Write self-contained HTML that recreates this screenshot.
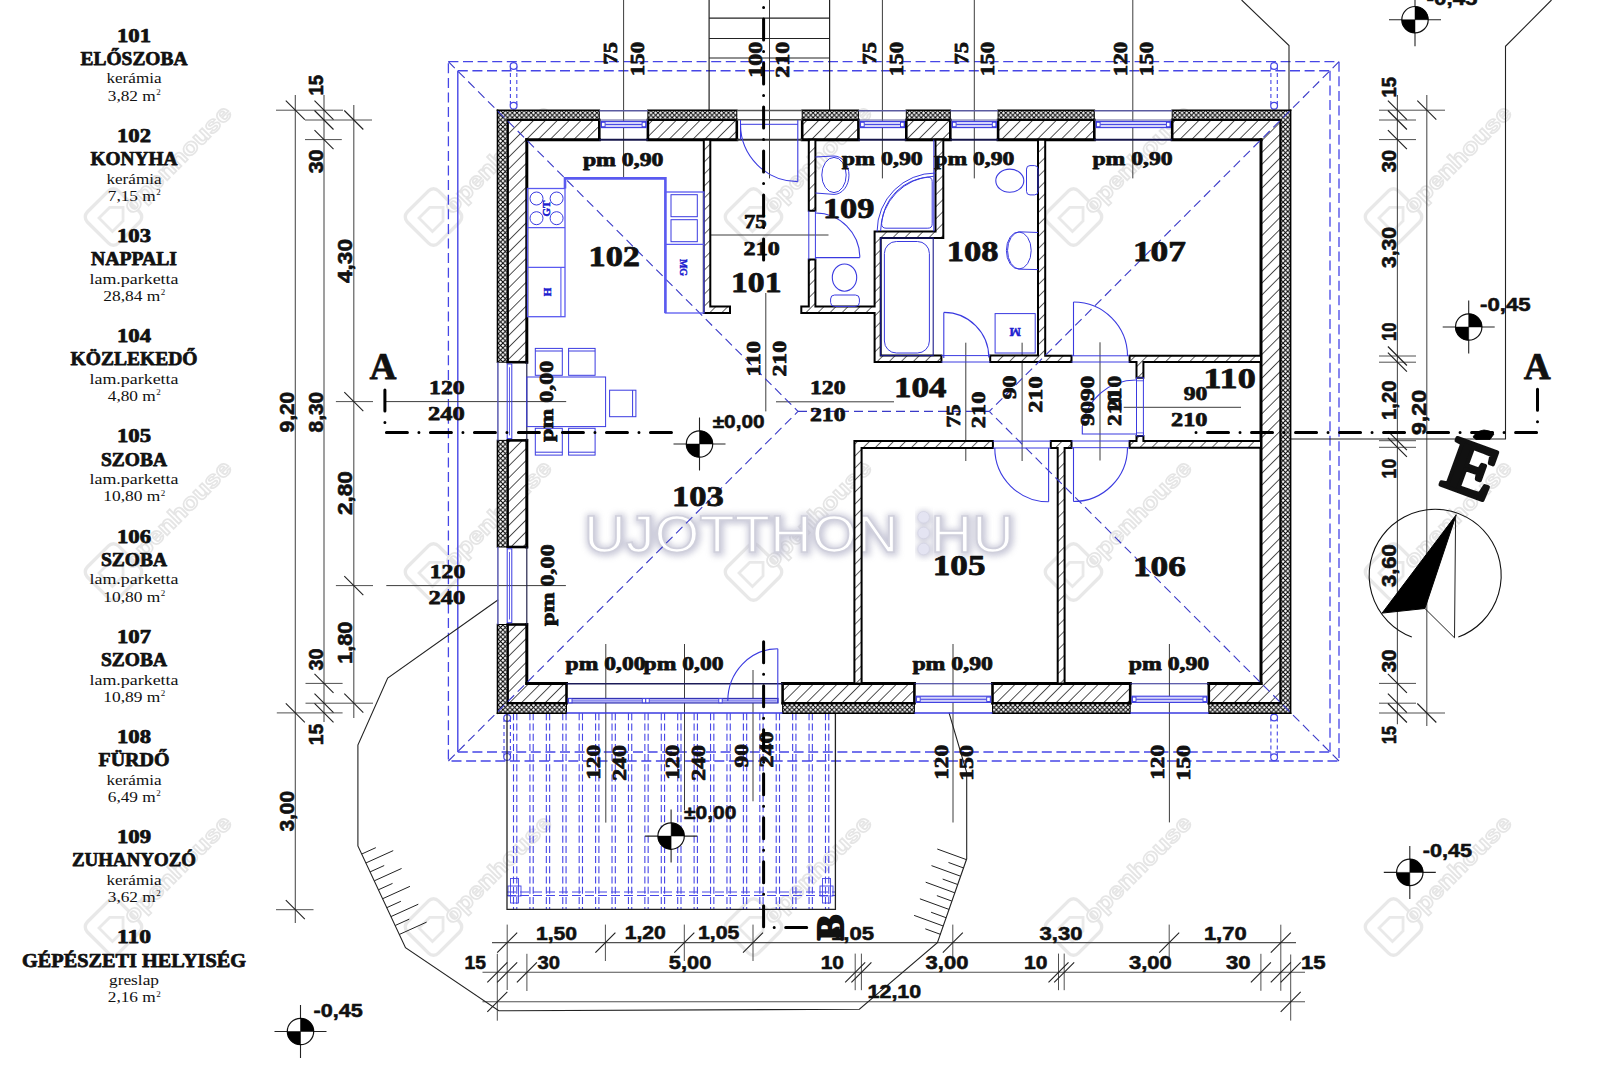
<!DOCTYPE html>
<html><head><meta charset="utf-8"><title>floor plan</title>
<style>html,body{margin:0;padding:0;background:#fff;overflow:hidden}svg{display:block}</style>
</head><body>
<svg width="1600" height="1066" viewBox="0 0 1600 1066">
<defs>
<pattern id="xh" patternUnits="userSpaceOnUse" width="4.7" height="4.7">
<rect width="4.7" height="4.7" fill="#fff"/>
<path d="M0,0 L4.7,4.7 M4.7,0 L0,4.7" stroke="#000" stroke-width="1.0"/>
</pattern>
<pattern id="hh" patternUnits="userSpaceOnUse" width="8.4" height="8.4" patternTransform="rotate(45)">
<rect width="8.4" height="8.4" fill="#fff"/>
<line x1="0" y1="0" x2="0" y2="8.4" stroke="#000" stroke-width="1.35"/>
</pattern>
<pattern id="hp" patternUnits="userSpaceOnUse" width="8.5" height="8.5" patternTransform="rotate(45)">
<rect width="8.5" height="8.5" fill="#fff"/>
<line x1="0" y1="0" x2="0" y2="8.5" stroke="#000" stroke-width="1.2"/>
</pattern>
<filter id="blur1" x="-10%" y="-30%" width="120%" height="160%"><feGaussianBlur stdDeviation="3"/></filter>
</defs>
<rect width="1600" height="1066" fill="#fff"/>
<g opacity="0.55">
<rect x="91.5" y="195" width="44" height="44" rx="7" fill="none" stroke="#d6d6d6" stroke-width="3.4" transform="rotate(45 113.5 217)"/>
<path d="M104,228 l0,-15 l9.5,-9.5 l9.5,9.5 l0,15 z" fill="none" stroke="#d8d8d8" stroke-width="2.8" transform="rotate(45 113.5 217)"/>
<text x="132.5" y="215" font-family="'Liberation Sans', sans-serif" font-size="23" font-weight="bold" fill="#fff" stroke="#d0d0d0" stroke-width="1.6" textLength="142" lengthAdjust="spacingAndGlyphs" transform="rotate(-45 132.5 215)">openhouse</text>
</g>
<g opacity="0.55">
<rect x="91.5" y="550" width="44" height="44" rx="7" fill="none" stroke="#d6d6d6" stroke-width="3.4" transform="rotate(45 113.5 572)"/>
<path d="M104,583 l0,-15 l9.5,-9.5 l9.5,9.5 l0,15 z" fill="none" stroke="#d8d8d8" stroke-width="2.8" transform="rotate(45 113.5 572)"/>
<text x="132.5" y="570" font-family="'Liberation Sans', sans-serif" font-size="23" font-weight="bold" fill="#fff" stroke="#d0d0d0" stroke-width="1.6" textLength="142" lengthAdjust="spacingAndGlyphs" transform="rotate(-45 132.5 570)">openhouse</text>
</g>
<g opacity="0.55">
<rect x="91.5" y="905" width="44" height="44" rx="7" fill="none" stroke="#d6d6d6" stroke-width="3.4" transform="rotate(45 113.5 927)"/>
<path d="M104,938 l0,-15 l9.5,-9.5 l9.5,9.5 l0,15 z" fill="none" stroke="#d8d8d8" stroke-width="2.8" transform="rotate(45 113.5 927)"/>
<text x="132.5" y="925" font-family="'Liberation Sans', sans-serif" font-size="23" font-weight="bold" fill="#fff" stroke="#d0d0d0" stroke-width="1.6" textLength="142" lengthAdjust="spacingAndGlyphs" transform="rotate(-45 132.5 925)">openhouse</text>
</g>
<g opacity="0.55">
<rect x="411.5" y="195" width="44" height="44" rx="7" fill="none" stroke="#d6d6d6" stroke-width="3.4" transform="rotate(45 433.5 217)"/>
<path d="M424,228 l0,-15 l9.5,-9.5 l9.5,9.5 l0,15 z" fill="none" stroke="#d8d8d8" stroke-width="2.8" transform="rotate(45 433.5 217)"/>
<text x="452.5" y="215" font-family="'Liberation Sans', sans-serif" font-size="23" font-weight="bold" fill="#fff" stroke="#d0d0d0" stroke-width="1.6" textLength="142" lengthAdjust="spacingAndGlyphs" transform="rotate(-45 452.5 215)">openhouse</text>
</g>
<g opacity="0.55">
<rect x="411.5" y="550" width="44" height="44" rx="7" fill="none" stroke="#d6d6d6" stroke-width="3.4" transform="rotate(45 433.5 572)"/>
<path d="M424,583 l0,-15 l9.5,-9.5 l9.5,9.5 l0,15 z" fill="none" stroke="#d8d8d8" stroke-width="2.8" transform="rotate(45 433.5 572)"/>
<text x="452.5" y="570" font-family="'Liberation Sans', sans-serif" font-size="23" font-weight="bold" fill="#fff" stroke="#d0d0d0" stroke-width="1.6" textLength="142" lengthAdjust="spacingAndGlyphs" transform="rotate(-45 452.5 570)">openhouse</text>
</g>
<g opacity="0.55">
<rect x="411.5" y="905" width="44" height="44" rx="7" fill="none" stroke="#d6d6d6" stroke-width="3.4" transform="rotate(45 433.5 927)"/>
<path d="M424,938 l0,-15 l9.5,-9.5 l9.5,9.5 l0,15 z" fill="none" stroke="#d8d8d8" stroke-width="2.8" transform="rotate(45 433.5 927)"/>
<text x="452.5" y="925" font-family="'Liberation Sans', sans-serif" font-size="23" font-weight="bold" fill="#fff" stroke="#d0d0d0" stroke-width="1.6" textLength="142" lengthAdjust="spacingAndGlyphs" transform="rotate(-45 452.5 925)">openhouse</text>
</g>
<g opacity="0.55">
<rect x="731.5" y="195" width="44" height="44" rx="7" fill="none" stroke="#d6d6d6" stroke-width="3.4" transform="rotate(45 753.5 217)"/>
<path d="M744,228 l0,-15 l9.5,-9.5 l9.5,9.5 l0,15 z" fill="none" stroke="#d8d8d8" stroke-width="2.8" transform="rotate(45 753.5 217)"/>
<text x="772.5" y="215" font-family="'Liberation Sans', sans-serif" font-size="23" font-weight="bold" fill="#fff" stroke="#d0d0d0" stroke-width="1.6" textLength="142" lengthAdjust="spacingAndGlyphs" transform="rotate(-45 772.5 215)">openhouse</text>
</g>
<g opacity="0.55">
<rect x="731.5" y="550" width="44" height="44" rx="7" fill="none" stroke="#d6d6d6" stroke-width="3.4" transform="rotate(45 753.5 572)"/>
<path d="M744,583 l0,-15 l9.5,-9.5 l9.5,9.5 l0,15 z" fill="none" stroke="#d8d8d8" stroke-width="2.8" transform="rotate(45 753.5 572)"/>
<text x="772.5" y="570" font-family="'Liberation Sans', sans-serif" font-size="23" font-weight="bold" fill="#fff" stroke="#d0d0d0" stroke-width="1.6" textLength="142" lengthAdjust="spacingAndGlyphs" transform="rotate(-45 772.5 570)">openhouse</text>
</g>
<g opacity="0.55">
<rect x="731.5" y="905" width="44" height="44" rx="7" fill="none" stroke="#d6d6d6" stroke-width="3.4" transform="rotate(45 753.5 927)"/>
<path d="M744,938 l0,-15 l9.5,-9.5 l9.5,9.5 l0,15 z" fill="none" stroke="#d8d8d8" stroke-width="2.8" transform="rotate(45 753.5 927)"/>
<text x="772.5" y="925" font-family="'Liberation Sans', sans-serif" font-size="23" font-weight="bold" fill="#fff" stroke="#d0d0d0" stroke-width="1.6" textLength="142" lengthAdjust="spacingAndGlyphs" transform="rotate(-45 772.5 925)">openhouse</text>
</g>
<g opacity="0.55">
<rect x="1051.5" y="195" width="44" height="44" rx="7" fill="none" stroke="#d6d6d6" stroke-width="3.4" transform="rotate(45 1073.5 217)"/>
<path d="M1064,228 l0,-15 l9.5,-9.5 l9.5,9.5 l0,15 z" fill="none" stroke="#d8d8d8" stroke-width="2.8" transform="rotate(45 1073.5 217)"/>
<text x="1092.5" y="215" font-family="'Liberation Sans', sans-serif" font-size="23" font-weight="bold" fill="#fff" stroke="#d0d0d0" stroke-width="1.6" textLength="142" lengthAdjust="spacingAndGlyphs" transform="rotate(-45 1092.5 215)">openhouse</text>
</g>
<g opacity="0.55">
<rect x="1051.5" y="550" width="44" height="44" rx="7" fill="none" stroke="#d6d6d6" stroke-width="3.4" transform="rotate(45 1073.5 572)"/>
<path d="M1064,583 l0,-15 l9.5,-9.5 l9.5,9.5 l0,15 z" fill="none" stroke="#d8d8d8" stroke-width="2.8" transform="rotate(45 1073.5 572)"/>
<text x="1092.5" y="570" font-family="'Liberation Sans', sans-serif" font-size="23" font-weight="bold" fill="#fff" stroke="#d0d0d0" stroke-width="1.6" textLength="142" lengthAdjust="spacingAndGlyphs" transform="rotate(-45 1092.5 570)">openhouse</text>
</g>
<g opacity="0.55">
<rect x="1051.5" y="905" width="44" height="44" rx="7" fill="none" stroke="#d6d6d6" stroke-width="3.4" transform="rotate(45 1073.5 927)"/>
<path d="M1064,938 l0,-15 l9.5,-9.5 l9.5,9.5 l0,15 z" fill="none" stroke="#d8d8d8" stroke-width="2.8" transform="rotate(45 1073.5 927)"/>
<text x="1092.5" y="925" font-family="'Liberation Sans', sans-serif" font-size="23" font-weight="bold" fill="#fff" stroke="#d0d0d0" stroke-width="1.6" textLength="142" lengthAdjust="spacingAndGlyphs" transform="rotate(-45 1092.5 925)">openhouse</text>
</g>
<g opacity="0.55">
<rect x="1371.5" y="195" width="44" height="44" rx="7" fill="none" stroke="#d6d6d6" stroke-width="3.4" transform="rotate(45 1393.5 217)"/>
<path d="M1384,228 l0,-15 l9.5,-9.5 l9.5,9.5 l0,15 z" fill="none" stroke="#d8d8d8" stroke-width="2.8" transform="rotate(45 1393.5 217)"/>
<text x="1412.5" y="215" font-family="'Liberation Sans', sans-serif" font-size="23" font-weight="bold" fill="#fff" stroke="#d0d0d0" stroke-width="1.6" textLength="142" lengthAdjust="spacingAndGlyphs" transform="rotate(-45 1412.5 215)">openhouse</text>
</g>
<g opacity="0.55">
<rect x="1371.5" y="550" width="44" height="44" rx="7" fill="none" stroke="#d6d6d6" stroke-width="3.4" transform="rotate(45 1393.5 572)"/>
<path d="M1384,583 l0,-15 l9.5,-9.5 l9.5,9.5 l0,15 z" fill="none" stroke="#d8d8d8" stroke-width="2.8" transform="rotate(45 1393.5 572)"/>
<text x="1412.5" y="570" font-family="'Liberation Sans', sans-serif" font-size="23" font-weight="bold" fill="#fff" stroke="#d0d0d0" stroke-width="1.6" textLength="142" lengthAdjust="spacingAndGlyphs" transform="rotate(-45 1412.5 570)">openhouse</text>
</g>
<g opacity="0.55">
<rect x="1371.5" y="905" width="44" height="44" rx="7" fill="none" stroke="#d6d6d6" stroke-width="3.4" transform="rotate(45 1393.5 927)"/>
<path d="M1384,938 l0,-15 l9.5,-9.5 l9.5,9.5 l0,15 z" fill="none" stroke="#d8d8d8" stroke-width="2.8" transform="rotate(45 1393.5 927)"/>
<text x="1412.5" y="925" font-family="'Liberation Sans', sans-serif" font-size="23" font-weight="bold" fill="#fff" stroke="#d0d0d0" stroke-width="1.6" textLength="142" lengthAdjust="spacingAndGlyphs" transform="rotate(-45 1412.5 925)">openhouse</text>
</g>
<g>
<text x="585" y="553" font-family="'Liberation Sans', sans-serif" font-size="51" font-weight="normal" fill="none" stroke="#b8b8cc" stroke-width="5.5" textLength="430" lengthAdjust="spacingAndGlyphs" filter="url(#blur1)" opacity="0.75">UJOTTHON&#160;&#160;HU</text>
<text x="584" y="552" font-family="'Liberation Sans', sans-serif" font-size="51" font-weight="normal" fill="#fff" stroke="#d0d0dc" stroke-width="1.6" textLength="430" lengthAdjust="spacingAndGlyphs">UJOTTHON&#160;&#160;HU</text>
<circle cx="924" cy="518.0999999999999" r="7.5" fill="#b8b8cc" filter="url(#blur1)" opacity="0.8"/>
<circle cx="923.6" cy="517.3" r="5.8" fill="#e4e4f2" stroke="#d4d4e4" stroke-width="0.8"/>
<circle cx="924" cy="533.8" r="7.5" fill="#b8b8cc" filter="url(#blur1)" opacity="0.8"/>
<circle cx="923.6" cy="533" r="5.8" fill="#e4e4f2" stroke="#d4d4e4" stroke-width="0.8"/>
<circle cx="924" cy="549.8" r="7.5" fill="#b8b8cc" filter="url(#blur1)" opacity="0.8"/>
<circle cx="923.6" cy="549" r="5.8" fill="#e4e4f2" stroke="#d4d4e4" stroke-width="0.8"/>
</g>
<rect x="448.4" y="61.7" width="890.6" height="699.3" fill="none" stroke="#4646e6" stroke-width="1.3" stroke-dasharray="10 4.6"/>
<line x1="457.8" y1="70.8" x2="1330" y2="70.8" stroke="#4646e6" stroke-width="1.5" stroke-dasharray="10 4.6"/>
<line x1="1330" y1="70.8" x2="1330" y2="752" stroke="#4646e6" stroke-width="1.3" stroke-dasharray="10 4.6"/>
<line x1="457.8" y1="752" x2="1330" y2="752" stroke="#4646e6" stroke-width="1.3" stroke-dasharray="10 4.6"/>
<line x1="457.8" y1="70.8" x2="457.8" y2="752" stroke="#4646e6" stroke-width="1.4"/>
<line x1="510.4" y1="66" x2="510.4" y2="105.8" stroke="#4646e6" stroke-width="1.1" stroke-dasharray="4 3"/>
<line x1="516.8" y1="66" x2="516.8" y2="105.8" stroke="#4646e6" stroke-width="1.1" stroke-dasharray="4 3"/>
<circle cx="513.6" cy="66" r="3.4" fill="#fff" stroke="#4646e6" stroke-width="1.2"/>
<circle cx="513.6" cy="105.8" r="3.4" fill="#fff" stroke="#4646e6" stroke-width="1.2"/>
<line x1="1270.9" y1="66" x2="1270.9" y2="105.8" stroke="#4646e6" stroke-width="1.1" stroke-dasharray="4 3"/>
<line x1="1277.3" y1="66" x2="1277.3" y2="105.8" stroke="#4646e6" stroke-width="1.1" stroke-dasharray="4 3"/>
<circle cx="1274.1" cy="66" r="3.4" fill="#fff" stroke="#4646e6" stroke-width="1.2"/>
<circle cx="1274.1" cy="105.8" r="3.4" fill="#fff" stroke="#4646e6" stroke-width="1.2"/>
<line x1="1270.9" y1="717.5" x2="1270.9" y2="757.2" stroke="#4646e6" stroke-width="1.1" stroke-dasharray="4 3"/>
<line x1="1277.3" y1="717.5" x2="1277.3" y2="757.2" stroke="#4646e6" stroke-width="1.1" stroke-dasharray="4 3"/>
<circle cx="1274.1" cy="717.5" r="3.4" fill="#fff" stroke="#4646e6" stroke-width="1.2"/>
<circle cx="1274.1" cy="757.2" r="3.4" fill="#fff" stroke="#4646e6" stroke-width="1.2"/>
<line x1="504" y1="718" x2="504" y2="756.9" stroke="#4646e6" stroke-width="1.1" stroke-dasharray="4 3"/>
<line x1="510.4" y1="718" x2="510.4" y2="756.9" stroke="#4646e6" stroke-width="1.1" stroke-dasharray="4 3"/>
<circle cx="507.2" cy="718" r="3.4" fill="#fff" stroke="#4646e6" stroke-width="1.2"/>
<circle cx="507.2" cy="756.9" r="3.4" fill="#fff" stroke="#4646e6" stroke-width="1.2"/>
<line x1="513.5" y1="713.3" x2="513.5" y2="909.3" stroke="#4646e6" stroke-width="1.1" stroke-dasharray="7 3.2"/>
<line x1="516.8" y1="713.3" x2="516.8" y2="909.3" stroke="#4646e6" stroke-width="1.1" stroke-dasharray="7 3.2"/>
<line x1="529.92" y1="713.3" x2="529.92" y2="909.3" stroke="#4646e6" stroke-width="1.1" stroke-dasharray="7 3.2"/>
<line x1="533.22" y1="713.3" x2="533.22" y2="909.3" stroke="#4646e6" stroke-width="1.1" stroke-dasharray="7 3.2"/>
<line x1="546.34" y1="713.3" x2="546.34" y2="909.3" stroke="#4646e6" stroke-width="1.1" stroke-dasharray="7 3.2"/>
<line x1="549.64" y1="713.3" x2="549.64" y2="909.3" stroke="#4646e6" stroke-width="1.1" stroke-dasharray="7 3.2"/>
<line x1="562.76" y1="713.3" x2="562.76" y2="909.3" stroke="#4646e6" stroke-width="1.1" stroke-dasharray="7 3.2"/>
<line x1="566.06" y1="713.3" x2="566.06" y2="909.3" stroke="#4646e6" stroke-width="1.1" stroke-dasharray="7 3.2"/>
<line x1="579.18" y1="713.3" x2="579.18" y2="909.3" stroke="#4646e6" stroke-width="1.1" stroke-dasharray="7 3.2"/>
<line x1="582.48" y1="713.3" x2="582.48" y2="909.3" stroke="#4646e6" stroke-width="1.1" stroke-dasharray="7 3.2"/>
<line x1="595.6" y1="713.3" x2="595.6" y2="909.3" stroke="#4646e6" stroke-width="1.1" stroke-dasharray="7 3.2"/>
<line x1="598.9" y1="713.3" x2="598.9" y2="909.3" stroke="#4646e6" stroke-width="1.1" stroke-dasharray="7 3.2"/>
<line x1="612.02" y1="713.3" x2="612.02" y2="909.3" stroke="#4646e6" stroke-width="1.1" stroke-dasharray="7 3.2"/>
<line x1="615.32" y1="713.3" x2="615.32" y2="909.3" stroke="#4646e6" stroke-width="1.1" stroke-dasharray="7 3.2"/>
<line x1="628.44" y1="713.3" x2="628.44" y2="909.3" stroke="#4646e6" stroke-width="1.1" stroke-dasharray="7 3.2"/>
<line x1="631.74" y1="713.3" x2="631.74" y2="909.3" stroke="#4646e6" stroke-width="1.1" stroke-dasharray="7 3.2"/>
<line x1="644.86" y1="713.3" x2="644.86" y2="909.3" stroke="#4646e6" stroke-width="1.1" stroke-dasharray="7 3.2"/>
<line x1="648.16" y1="713.3" x2="648.16" y2="909.3" stroke="#4646e6" stroke-width="1.1" stroke-dasharray="7 3.2"/>
<line x1="661.28" y1="713.3" x2="661.28" y2="909.3" stroke="#4646e6" stroke-width="1.1" stroke-dasharray="7 3.2"/>
<line x1="664.58" y1="713.3" x2="664.58" y2="909.3" stroke="#4646e6" stroke-width="1.1" stroke-dasharray="7 3.2"/>
<line x1="677.7" y1="713.3" x2="677.7" y2="909.3" stroke="#4646e6" stroke-width="1.1" stroke-dasharray="7 3.2"/>
<line x1="681" y1="713.3" x2="681" y2="909.3" stroke="#4646e6" stroke-width="1.1" stroke-dasharray="7 3.2"/>
<line x1="694.12" y1="713.3" x2="694.12" y2="909.3" stroke="#4646e6" stroke-width="1.1" stroke-dasharray="7 3.2"/>
<line x1="697.42" y1="713.3" x2="697.42" y2="909.3" stroke="#4646e6" stroke-width="1.1" stroke-dasharray="7 3.2"/>
<line x1="710.54" y1="713.3" x2="710.54" y2="909.3" stroke="#4646e6" stroke-width="1.1" stroke-dasharray="7 3.2"/>
<line x1="713.84" y1="713.3" x2="713.84" y2="909.3" stroke="#4646e6" stroke-width="1.1" stroke-dasharray="7 3.2"/>
<line x1="726.96" y1="713.3" x2="726.96" y2="909.3" stroke="#4646e6" stroke-width="1.1" stroke-dasharray="7 3.2"/>
<line x1="730.26" y1="713.3" x2="730.26" y2="909.3" stroke="#4646e6" stroke-width="1.1" stroke-dasharray="7 3.2"/>
<line x1="743.38" y1="713.3" x2="743.38" y2="909.3" stroke="#4646e6" stroke-width="1.1" stroke-dasharray="7 3.2"/>
<line x1="746.68" y1="713.3" x2="746.68" y2="909.3" stroke="#4646e6" stroke-width="1.1" stroke-dasharray="7 3.2"/>
<line x1="759.8" y1="713.3" x2="759.8" y2="909.3" stroke="#4646e6" stroke-width="1.1" stroke-dasharray="7 3.2"/>
<line x1="763.1" y1="713.3" x2="763.1" y2="909.3" stroke="#4646e6" stroke-width="1.1" stroke-dasharray="7 3.2"/>
<line x1="776.22" y1="713.3" x2="776.22" y2="909.3" stroke="#4646e6" stroke-width="1.1" stroke-dasharray="7 3.2"/>
<line x1="779.52" y1="713.3" x2="779.52" y2="909.3" stroke="#4646e6" stroke-width="1.1" stroke-dasharray="7 3.2"/>
<line x1="792.64" y1="713.3" x2="792.64" y2="909.3" stroke="#4646e6" stroke-width="1.1" stroke-dasharray="7 3.2"/>
<line x1="795.94" y1="713.3" x2="795.94" y2="909.3" stroke="#4646e6" stroke-width="1.1" stroke-dasharray="7 3.2"/>
<line x1="809.06" y1="713.3" x2="809.06" y2="909.3" stroke="#4646e6" stroke-width="1.1" stroke-dasharray="7 3.2"/>
<line x1="812.36" y1="713.3" x2="812.36" y2="909.3" stroke="#4646e6" stroke-width="1.1" stroke-dasharray="7 3.2"/>
<line x1="825.48" y1="713.3" x2="825.48" y2="909.3" stroke="#4646e6" stroke-width="1.1" stroke-dasharray="7 3.2"/>
<line x1="828.78" y1="713.3" x2="828.78" y2="909.3" stroke="#4646e6" stroke-width="1.1" stroke-dasharray="7 3.2"/>
<line x1="507" y1="892" x2="835.4" y2="892" stroke="#4646e6" stroke-width="1" stroke-dasharray="9 4"/>
<line x1="507" y1="895.5" x2="835.4" y2="895.5" stroke="#4646e6" stroke-width="1" stroke-dasharray="9 4"/>
<rect x="510.5" y="878.5" width="8" height="24.5" fill="none" stroke="#4646e6" stroke-width="0.9"/>
<rect x="508" y="886" width="13" height="10" fill="none" stroke="#4646e6" stroke-width="0.9"/>
<rect x="822.5" y="878.5" width="8" height="24.5" fill="none" stroke="#4646e6" stroke-width="0.9"/>
<rect x="820" y="886" width="13" height="10" fill="none" stroke="#4646e6" stroke-width="0.9"/>
<polyline points="507,713.3 507,909.3 835.4,909.3 835.4,713.3" fill="none" stroke="#222" stroke-width="1.3"/>
<line x1="295.3" y1="95" x2="295.3" y2="923" stroke="#505050" stroke-width="1.1"/>
<line x1="324" y1="95" x2="324" y2="722" stroke="#505050" stroke-width="1.1"/>
<line x1="353.8" y1="105" x2="353.8" y2="718" stroke="#505050" stroke-width="1.1"/>
<line x1="276" y1="110.2" x2="343" y2="110.2" stroke="#505050" stroke-width="1"/>
<line x1="276.8" y1="712.9" x2="342.6" y2="712.9" stroke="#505050" stroke-width="1"/>
<line x1="276" y1="909.7" x2="313.5" y2="909.7" stroke="#505050" stroke-width="1"/>
<line x1="305" y1="120" x2="372" y2="120" stroke="#505050" stroke-width="1"/>
<line x1="305" y1="139.6" x2="341.8" y2="139.6" stroke="#505050" stroke-width="1"/>
<line x1="305.5" y1="683.4" x2="342.6" y2="683.4" stroke="#505050" stroke-width="1"/>
<line x1="305.5" y1="703.2" x2="373" y2="703.2" stroke="#505050" stroke-width="1"/>
<line x1="335.9" y1="401.6" x2="373" y2="401.6" stroke="#505050" stroke-width="1"/>
<line x1="335.9" y1="585.6" x2="373" y2="585.6" stroke="#505050" stroke-width="1"/>
<line x1="285.8" y1="100.7" x2="304.8" y2="119.7" stroke="#1e1e1e" stroke-width="1.1"/>
<line x1="285.8" y1="703.4" x2="304.8" y2="722.4" stroke="#1e1e1e" stroke-width="1.1"/>
<line x1="285.8" y1="900.2" x2="304.8" y2="919.2" stroke="#1e1e1e" stroke-width="1.1"/>
<line x1="314.5" y1="100.7" x2="333.5" y2="119.7" stroke="#1e1e1e" stroke-width="1.1"/>
<line x1="314.5" y1="110.5" x2="333.5" y2="129.5" stroke="#1e1e1e" stroke-width="1.1"/>
<line x1="314.5" y1="130.1" x2="333.5" y2="149.1" stroke="#1e1e1e" stroke-width="1.1"/>
<line x1="314.5" y1="673.9" x2="333.5" y2="692.9" stroke="#1e1e1e" stroke-width="1.1"/>
<line x1="314.5" y1="693.7" x2="333.5" y2="712.7" stroke="#1e1e1e" stroke-width="1.1"/>
<line x1="314.5" y1="703.4" x2="333.5" y2="722.4" stroke="#1e1e1e" stroke-width="1.1"/>
<line x1="344.3" y1="110.5" x2="363.3" y2="129.5" stroke="#1e1e1e" stroke-width="1.1"/>
<line x1="344.3" y1="392.1" x2="363.3" y2="411.1" stroke="#1e1e1e" stroke-width="1.1"/>
<line x1="344.3" y1="576.1" x2="363.3" y2="595.1" stroke="#1e1e1e" stroke-width="1.1"/>
<line x1="344.3" y1="693.7" x2="363.3" y2="712.7" stroke="#1e1e1e" stroke-width="1.1"/>
<line x1="1397.4" y1="95" x2="1397.4" y2="724.3" stroke="#505050" stroke-width="1.1"/>
<line x1="1426.8" y1="95" x2="1426.8" y2="726" stroke="#505050" stroke-width="1.1"/>
<line x1="1379" y1="110.2" x2="1445" y2="110.2" stroke="#505050" stroke-width="1"/>
<line x1="1379" y1="120" x2="1416" y2="120" stroke="#505050" stroke-width="1"/>
<line x1="1379" y1="139.6" x2="1416" y2="139.6" stroke="#505050" stroke-width="1"/>
<line x1="1379" y1="356" x2="1416" y2="356" stroke="#505050" stroke-width="1"/>
<line x1="1379" y1="362.2" x2="1416" y2="362.2" stroke="#505050" stroke-width="1"/>
<line x1="1379" y1="440.7" x2="1416" y2="440.7" stroke="#505050" stroke-width="1"/>
<line x1="1379" y1="447.3" x2="1416" y2="447.3" stroke="#505050" stroke-width="1"/>
<line x1="1379" y1="683.4" x2="1416" y2="683.4" stroke="#505050" stroke-width="1"/>
<line x1="1379" y1="703.2" x2="1416" y2="703.2" stroke="#505050" stroke-width="1"/>
<line x1="1379" y1="713" x2="1445" y2="713" stroke="#505050" stroke-width="1"/>
<line x1="1387.9" y1="100.7" x2="1406.9" y2="119.7" stroke="#1e1e1e" stroke-width="1.1"/>
<line x1="1387.9" y1="110.5" x2="1406.9" y2="129.5" stroke="#1e1e1e" stroke-width="1.1"/>
<line x1="1387.9" y1="130.1" x2="1406.9" y2="149.1" stroke="#1e1e1e" stroke-width="1.1"/>
<line x1="1387.9" y1="346.5" x2="1406.9" y2="365.5" stroke="#1e1e1e" stroke-width="1.1"/>
<line x1="1387.9" y1="352.7" x2="1406.9" y2="371.7" stroke="#1e1e1e" stroke-width="1.1"/>
<line x1="1387.9" y1="431.2" x2="1406.9" y2="450.2" stroke="#1e1e1e" stroke-width="1.1"/>
<line x1="1387.9" y1="437.8" x2="1406.9" y2="456.8" stroke="#1e1e1e" stroke-width="1.1"/>
<line x1="1387.9" y1="673.9" x2="1406.9" y2="692.9" stroke="#1e1e1e" stroke-width="1.1"/>
<line x1="1387.9" y1="693.7" x2="1406.9" y2="712.7" stroke="#1e1e1e" stroke-width="1.1"/>
<line x1="1387.9" y1="703.5" x2="1406.9" y2="722.5" stroke="#1e1e1e" stroke-width="1.1"/>
<line x1="1417.3" y1="100.7" x2="1436.3" y2="119.7" stroke="#1e1e1e" stroke-width="1.1"/>
<line x1="1417.3" y1="703.5" x2="1436.3" y2="722.5" stroke="#1e1e1e" stroke-width="1.1"/>
<line x1="492" y1="942.6" x2="1296" y2="942.6" stroke="#505050" stroke-width="1.1"/>
<line x1="482.5" y1="972.3" x2="1305" y2="972.3" stroke="#505050" stroke-width="1.1"/>
<line x1="482.5" y1="1001.8" x2="1305" y2="1001.8" stroke="#505050" stroke-width="1.1"/>
<line x1="507.2" y1="924.6" x2="507.2" y2="990" stroke="#505050" stroke-width="1"/>
<line x1="605.4" y1="924.6" x2="605.4" y2="961" stroke="#505050" stroke-width="1"/>
<line x1="684.3" y1="924.6" x2="684.3" y2="961" stroke="#505050" stroke-width="1"/>
<line x1="753" y1="924.6" x2="753" y2="961" stroke="#505050" stroke-width="1"/>
<line x1="952.8" y1="924.6" x2="952.8" y2="961" stroke="#505050" stroke-width="1"/>
<line x1="1169.2" y1="924.6" x2="1169.2" y2="961" stroke="#505050" stroke-width="1"/>
<line x1="1280.8" y1="924.7" x2="1280.8" y2="990.8" stroke="#505050" stroke-width="1"/>
<line x1="497.3" y1="953.8" x2="497.3" y2="1020.7" stroke="#505050" stroke-width="1"/>
<line x1="526.9" y1="953.8" x2="526.9" y2="991" stroke="#505050" stroke-width="1"/>
<line x1="855.2" y1="953.6" x2="855.2" y2="990.2" stroke="#505050" stroke-width="1"/>
<line x1="861.4" y1="953.6" x2="861.4" y2="990.2" stroke="#505050" stroke-width="1"/>
<line x1="1058.5" y1="953.6" x2="1058.5" y2="990.2" stroke="#505050" stroke-width="1"/>
<line x1="1064.2" y1="953.6" x2="1064.2" y2="990.2" stroke="#505050" stroke-width="1"/>
<line x1="1260.9" y1="953.8" x2="1260.9" y2="990.8" stroke="#505050" stroke-width="1"/>
<line x1="1290.7" y1="954.5" x2="1290.7" y2="1020.6" stroke="#505050" stroke-width="1"/>
<line x1="497.2" y1="952.6" x2="517.2" y2="932.6" stroke="#1e1e1e" stroke-width="1.1"/>
<line x1="595.4" y1="952.6" x2="615.4" y2="932.6" stroke="#1e1e1e" stroke-width="1.1"/>
<line x1="674.3" y1="952.6" x2="694.3" y2="932.6" stroke="#1e1e1e" stroke-width="1.1"/>
<line x1="743" y1="952.6" x2="763" y2="932.6" stroke="#1e1e1e" stroke-width="1.1"/>
<line x1="942.8" y1="952.6" x2="962.8" y2="932.6" stroke="#1e1e1e" stroke-width="1.1"/>
<line x1="1159.2" y1="952.6" x2="1179.2" y2="932.6" stroke="#1e1e1e" stroke-width="1.1"/>
<line x1="1270.8" y1="952.6" x2="1290.8" y2="932.6" stroke="#1e1e1e" stroke-width="1.1"/>
<line x1="487.3" y1="982.3" x2="507.3" y2="962.3" stroke="#1e1e1e" stroke-width="1.1"/>
<line x1="497.2" y1="982.3" x2="517.2" y2="962.3" stroke="#1e1e1e" stroke-width="1.1"/>
<line x1="516.9" y1="982.3" x2="536.9" y2="962.3" stroke="#1e1e1e" stroke-width="1.1"/>
<line x1="845.2" y1="982.3" x2="865.2" y2="962.3" stroke="#1e1e1e" stroke-width="1.1"/>
<line x1="851.4" y1="982.3" x2="871.4" y2="962.3" stroke="#1e1e1e" stroke-width="1.1"/>
<line x1="1048.5" y1="982.3" x2="1068.5" y2="962.3" stroke="#1e1e1e" stroke-width="1.1"/>
<line x1="1054.2" y1="982.3" x2="1074.2" y2="962.3" stroke="#1e1e1e" stroke-width="1.1"/>
<line x1="1250.9" y1="982.3" x2="1270.9" y2="962.3" stroke="#1e1e1e" stroke-width="1.1"/>
<line x1="1270.8" y1="982.3" x2="1290.8" y2="962.3" stroke="#1e1e1e" stroke-width="1.1"/>
<line x1="1280.7" y1="982.3" x2="1300.7" y2="962.3" stroke="#1e1e1e" stroke-width="1.1"/>
<line x1="487.3" y1="1011.8" x2="507.3" y2="991.8" stroke="#1e1e1e" stroke-width="1.1"/>
<line x1="1280.7" y1="1011.8" x2="1300.7" y2="991.8" stroke="#1e1e1e" stroke-width="1.1"/>
<line x1="623.6" y1="0" x2="623.6" y2="178.4" stroke="#3c3c3c" stroke-width="1"/>
<line x1="769.5" y1="0" x2="769.5" y2="178.4" stroke="#3c3c3c" stroke-width="1"/>
<line x1="882.4" y1="0" x2="882.4" y2="178.4" stroke="#3c3c3c" stroke-width="1"/>
<line x1="974.3" y1="0" x2="974.3" y2="178.4" stroke="#3c3c3c" stroke-width="1"/>
<line x1="1132.8" y1="0" x2="1132.8" y2="178.4" stroke="#3c3c3c" stroke-width="1"/>
<line x1="709.1" y1="0" x2="709.1" y2="110.3" stroke="#222" stroke-width="1.2"/>
<line x1="829.6" y1="0" x2="829.6" y2="110.3" stroke="#222" stroke-width="1.2"/>
<line x1="709.1" y1="18.2" x2="829.6" y2="18.2" stroke="#222" stroke-width="1.2"/>
<line x1="709.1" y1="38.5" x2="829.6" y2="38.5" stroke="#222" stroke-width="1.2"/>
<line x1="709.1" y1="58" x2="829.6" y2="58" stroke="#222" stroke-width="1.2"/>
<line x1="605.8" y1="644" x2="605.8" y2="822.6" stroke="#3c3c3c" stroke-width="1"/>
<line x1="684.5" y1="644" x2="684.5" y2="810.3" stroke="#3c3c3c" stroke-width="1"/>
<line x1="753" y1="670" x2="753" y2="801.3" stroke="#3c3c3c" stroke-width="1"/>
<line x1="953" y1="644" x2="953" y2="822.5" stroke="#3c3c3c" stroke-width="1"/>
<line x1="1169.4" y1="644" x2="1169.4" y2="822.4" stroke="#3c3c3c" stroke-width="1"/>
<line x1="965.8" y1="342.7" x2="965.8" y2="461" stroke="#3c3c3c" stroke-width="1"/>
<line x1="1022.1" y1="342.7" x2="1022.1" y2="461" stroke="#3c3c3c" stroke-width="1"/>
<line x1="1100" y1="342.3" x2="1100" y2="460.5" stroke="#3c3c3c" stroke-width="1"/>
<line x1="765.8" y1="293" x2="765.8" y2="411.4" stroke="#3c3c3c" stroke-width="1"/>
<line x1="776" y1="401.8" x2="894" y2="401.8" stroke="#3c3c3c" stroke-width="1"/>
<line x1="1123.7" y1="407.3" x2="1241" y2="407.3" stroke="#3c3c3c" stroke-width="1"/>
<line x1="710.3" y1="235" x2="828.5" y2="235" stroke="#3c3c3c" stroke-width="1"/>
<line x1="385" y1="401.6" x2="566.2" y2="401.6" stroke="#3c3c3c" stroke-width="1"/>
<line x1="386.3" y1="585.6" x2="565.9" y2="585.6" stroke="#3c3c3c" stroke-width="1"/>
<polyline points="1241.6,0 1289,45.5 1289,110.3" fill="none" stroke="#222" stroke-width="1.1"/>
<polyline points="1551.5,0 1505.5,46.3 1505.5,439 1291,439" fill="none" stroke="#222" stroke-width="1.1"/>
<polyline points="498.2,599.8 387.7,678.1 357.9,745 357.9,845.9 405.5,947.7 498.8,1010.8 859.4,1009.2 937.4,942.7 966.7,858.8 966.7,772.6 949,712.7" fill="none" stroke="#222" stroke-width="1.1"/>
<line x1="361.71" y1="854.04" x2="375.83" y2="847.65" stroke="#222" stroke-width="1"/>
<line x1="365.89" y1="862.98" x2="393.22" y2="850.61" stroke="#222" stroke-width="1"/>
<line x1="370.06" y1="871.92" x2="384.19" y2="865.52" stroke="#222" stroke-width="1"/>
<line x1="374.24" y1="880.85" x2="401.57" y2="868.48" stroke="#222" stroke-width="1"/>
<line x1="378.42" y1="889.79" x2="392.54" y2="883.4" stroke="#222" stroke-width="1"/>
<line x1="382.6" y1="898.72" x2="409.93" y2="886.35" stroke="#222" stroke-width="1"/>
<line x1="386.78" y1="907.66" x2="400.9" y2="901.27" stroke="#222" stroke-width="1"/>
<line x1="390.96" y1="916.59" x2="418.29" y2="904.23" stroke="#222" stroke-width="1"/>
<line x1="395.13" y1="925.53" x2="409.26" y2="919.14" stroke="#222" stroke-width="1"/>
<line x1="399.31" y1="934.47" x2="426.64" y2="922.1" stroke="#222" stroke-width="1"/>
<line x1="966.41" y1="859.64" x2="937.28" y2="849.02" stroke="#222" stroke-width="1"/>
<line x1="963.51" y1="867.94" x2="948.48" y2="862.46" stroke="#222" stroke-width="1"/>
<line x1="960.61" y1="876.23" x2="931.49" y2="865.61" stroke="#222" stroke-width="1"/>
<line x1="957.71" y1="884.53" x2="942.68" y2="879.05" stroke="#222" stroke-width="1"/>
<line x1="954.82" y1="892.83" x2="925.69" y2="882.21" stroke="#222" stroke-width="1"/>
<line x1="951.92" y1="901.12" x2="936.89" y2="895.64" stroke="#222" stroke-width="1"/>
<line x1="949.02" y1="909.42" x2="919.9" y2="898.8" stroke="#222" stroke-width="1"/>
<line x1="946.12" y1="917.72" x2="931.09" y2="912.24" stroke="#222" stroke-width="1"/>
<line x1="943.23" y1="926.01" x2="914.1" y2="915.39" stroke="#222" stroke-width="1"/>
<line x1="940.33" y1="934.31" x2="925.3" y2="928.83" stroke="#222" stroke-width="1"/>
<polygon points="497.5,110.3 599.3,110.3 599.3,120 497.5,120" fill="url(#xh)" stroke="none" stroke-width="0"/>
<polygon points="507.8,120 599.3,120 599.3,139.7 507.8,139.7" fill="url(#hh)" stroke="none" stroke-width="0"/>
<polygon points="647.9,110.3 736.8,110.3 736.8,120 647.9,120" fill="url(#xh)" stroke="none" stroke-width="0"/>
<polygon points="647.9,120 736.8,120 736.8,139.7 647.9,139.7" fill="url(#hh)" stroke="none" stroke-width="0"/>
<polygon points="802.2,110.3 858.4,110.3 858.4,120 802.2,120" fill="url(#xh)" stroke="none" stroke-width="0"/>
<polygon points="802.2,120 858.4,120 858.4,139.7 802.2,139.7" fill="url(#hh)" stroke="none" stroke-width="0"/>
<polygon points="906.3,110.3 950.3,110.3 950.3,120 906.3,120" fill="url(#xh)" stroke="none" stroke-width="0"/>
<polygon points="906.3,120 950.3,120 950.3,139.7 906.3,139.7" fill="url(#hh)" stroke="none" stroke-width="0"/>
<polygon points="998.1,110.3 1094.3,110.3 1094.3,120 998.1,120" fill="url(#xh)" stroke="none" stroke-width="0"/>
<polygon points="998.1,120 1094.3,120 1094.3,139.7 998.1,139.7" fill="url(#hh)" stroke="none" stroke-width="0"/>
<polygon points="1172.2,110.3 1290.6,110.3 1290.6,120 1172.2,120" fill="url(#xh)" stroke="none" stroke-width="0"/>
<polygon points="1172.2,120 1280.4,120 1280.4,139.7 1172.2,139.7" fill="url(#hh)" stroke="none" stroke-width="0"/>
<polygon points="497.5,703.2 566.5,703.2 566.5,713.3 497.5,713.3" fill="url(#xh)" stroke="none" stroke-width="0"/>
<polygon points="507.8,683.4 566.5,683.4 566.5,703.2 507.8,703.2" fill="url(#hh)" stroke="none" stroke-width="0"/>
<polygon points="782.6,703.2 914.4,703.2 914.4,713.3 782.6,713.3" fill="url(#xh)" stroke="none" stroke-width="0"/>
<polygon points="782.6,683.4 914.4,683.4 914.4,703.2 782.6,703.2" fill="url(#hh)" stroke="none" stroke-width="0"/>
<polygon points="992.5,703.2 1130.2,703.2 1130.2,713.3 992.5,713.3" fill="url(#xh)" stroke="none" stroke-width="0"/>
<polygon points="992.5,683.4 1130.2,683.4 1130.2,703.2 992.5,703.2" fill="url(#hh)" stroke="none" stroke-width="0"/>
<polygon points="1208.8,703.2 1290.6,703.2 1290.6,713.3 1208.8,713.3" fill="url(#xh)" stroke="none" stroke-width="0"/>
<polygon points="1208.8,683.4 1280.4,683.4 1280.4,703.2 1208.8,703.2" fill="url(#hh)" stroke="none" stroke-width="0"/>
<polygon points="497.5,110.3 507.8,110.3 507.8,362.2 497.5,362.2" fill="url(#xh)" stroke="none" stroke-width="0"/>
<polygon points="507.8,120 526.8,120 526.8,362.2 507.8,362.2" fill="url(#hh)" stroke="none" stroke-width="0"/>
<polygon points="497.5,440.4 507.8,440.4 507.8,547 497.5,547" fill="url(#xh)" stroke="none" stroke-width="0"/>
<polygon points="507.8,440.4 526.8,440.4 526.8,547 507.8,547" fill="url(#hh)" stroke="none" stroke-width="0"/>
<polygon points="497.5,624.5 507.8,624.5 507.8,713.3 497.5,713.3" fill="url(#xh)" stroke="none" stroke-width="0"/>
<polygon points="507.8,624.5 526.8,624.5 526.8,703.2 507.8,703.2" fill="url(#hh)" stroke="none" stroke-width="0"/>
<polygon points="1280.4,110.3 1290.6,110.3 1290.6,713.3 1280.4,713.3" fill="url(#xh)" stroke="none" stroke-width="0"/>
<polygon points="1261,120 1280.4,120 1280.4,703.2 1261,703.2" fill="url(#hh)" stroke="none" stroke-width="0"/>
<line x1="497.5" y1="110.3" x2="599.3" y2="110.3" stroke="#000" stroke-width="1.6" stroke-linecap="square"/>
<line x1="507.8" y1="120" x2="599.3" y2="120" stroke="#000" stroke-width="2.2" stroke-linecap="square"/>
<line x1="526.8" y1="139.7" x2="599.3" y2="139.7" stroke="#000" stroke-width="3" stroke-linecap="square"/>
<line x1="599.3" y1="120" x2="599.3" y2="139.7" stroke="#000" stroke-width="2.6" stroke-linecap="square"/>
<line x1="599.3" y1="110.3" x2="599.3" y2="120" stroke="#000" stroke-width="1"/>
<line x1="647.9" y1="110.3" x2="736.8" y2="110.3" stroke="#000" stroke-width="1.6" stroke-linecap="square"/>
<line x1="647.9" y1="120" x2="736.8" y2="120" stroke="#000" stroke-width="2.2" stroke-linecap="square"/>
<line x1="647.9" y1="139.7" x2="736.8" y2="139.7" stroke="#000" stroke-width="3" stroke-linecap="square"/>
<line x1="647.9" y1="120" x2="647.9" y2="139.7" stroke="#000" stroke-width="2.6" stroke-linecap="square"/>
<line x1="647.9" y1="110.3" x2="647.9" y2="120" stroke="#000" stroke-width="1"/>
<line x1="736.8" y1="120" x2="736.8" y2="139.7" stroke="#000" stroke-width="2.6" stroke-linecap="square"/>
<line x1="736.8" y1="110.3" x2="736.8" y2="120" stroke="#000" stroke-width="1"/>
<line x1="802.2" y1="110.3" x2="858.4" y2="110.3" stroke="#000" stroke-width="1.6" stroke-linecap="square"/>
<line x1="802.2" y1="120" x2="858.4" y2="120" stroke="#000" stroke-width="2.2" stroke-linecap="square"/>
<line x1="802.2" y1="139.7" x2="858.4" y2="139.7" stroke="#000" stroke-width="3" stroke-linecap="square"/>
<line x1="802.2" y1="120" x2="802.2" y2="139.7" stroke="#000" stroke-width="2.6" stroke-linecap="square"/>
<line x1="802.2" y1="110.3" x2="802.2" y2="120" stroke="#000" stroke-width="1"/>
<line x1="858.4" y1="120" x2="858.4" y2="139.7" stroke="#000" stroke-width="2.6" stroke-linecap="square"/>
<line x1="858.4" y1="110.3" x2="858.4" y2="120" stroke="#000" stroke-width="1"/>
<line x1="906.3" y1="110.3" x2="950.3" y2="110.3" stroke="#000" stroke-width="1.6" stroke-linecap="square"/>
<line x1="906.3" y1="120" x2="950.3" y2="120" stroke="#000" stroke-width="2.2" stroke-linecap="square"/>
<line x1="906.3" y1="139.7" x2="950.3" y2="139.7" stroke="#000" stroke-width="3" stroke-linecap="square"/>
<line x1="906.3" y1="120" x2="906.3" y2="139.7" stroke="#000" stroke-width="2.6" stroke-linecap="square"/>
<line x1="906.3" y1="110.3" x2="906.3" y2="120" stroke="#000" stroke-width="1"/>
<line x1="950.3" y1="120" x2="950.3" y2="139.7" stroke="#000" stroke-width="2.6" stroke-linecap="square"/>
<line x1="950.3" y1="110.3" x2="950.3" y2="120" stroke="#000" stroke-width="1"/>
<line x1="998.1" y1="110.3" x2="1094.3" y2="110.3" stroke="#000" stroke-width="1.6" stroke-linecap="square"/>
<line x1="998.1" y1="120" x2="1094.3" y2="120" stroke="#000" stroke-width="2.2" stroke-linecap="square"/>
<line x1="998.1" y1="139.7" x2="1094.3" y2="139.7" stroke="#000" stroke-width="3" stroke-linecap="square"/>
<line x1="998.1" y1="120" x2="998.1" y2="139.7" stroke="#000" stroke-width="2.6" stroke-linecap="square"/>
<line x1="998.1" y1="110.3" x2="998.1" y2="120" stroke="#000" stroke-width="1"/>
<line x1="1094.3" y1="120" x2="1094.3" y2="139.7" stroke="#000" stroke-width="2.6" stroke-linecap="square"/>
<line x1="1094.3" y1="110.3" x2="1094.3" y2="120" stroke="#000" stroke-width="1"/>
<line x1="1172.2" y1="110.3" x2="1290.6" y2="110.3" stroke="#000" stroke-width="1.6" stroke-linecap="square"/>
<line x1="1172.2" y1="120" x2="1280.4" y2="120" stroke="#000" stroke-width="2.2" stroke-linecap="square"/>
<line x1="1172.2" y1="139.7" x2="1261" y2="139.7" stroke="#000" stroke-width="3" stroke-linecap="square"/>
<line x1="1172.2" y1="120" x2="1172.2" y2="139.7" stroke="#000" stroke-width="2.6" stroke-linecap="square"/>
<line x1="1172.2" y1="110.3" x2="1172.2" y2="120" stroke="#000" stroke-width="1"/>
<line x1="497.5" y1="713.3" x2="566.5" y2="713.3" stroke="#000" stroke-width="1.6" stroke-linecap="square"/>
<line x1="507.8" y1="703.2" x2="566.5" y2="703.2" stroke="#000" stroke-width="2.2" stroke-linecap="square"/>
<line x1="526.8" y1="683.4" x2="566.5" y2="683.4" stroke="#000" stroke-width="3" stroke-linecap="square"/>
<line x1="566.5" y1="683.4" x2="566.5" y2="703.2" stroke="#000" stroke-width="2.6" stroke-linecap="square"/>
<line x1="566.5" y1="703.2" x2="566.5" y2="713.3" stroke="#000" stroke-width="1"/>
<line x1="782.6" y1="713.3" x2="914.4" y2="713.3" stroke="#000" stroke-width="1.6" stroke-linecap="square"/>
<line x1="782.6" y1="703.2" x2="914.4" y2="703.2" stroke="#000" stroke-width="2.2" stroke-linecap="square"/>
<line x1="782.6" y1="683.4" x2="914.4" y2="683.4" stroke="#000" stroke-width="3" stroke-linecap="square"/>
<line x1="782.6" y1="683.4" x2="782.6" y2="703.2" stroke="#000" stroke-width="2.6" stroke-linecap="square"/>
<line x1="782.6" y1="703.2" x2="782.6" y2="713.3" stroke="#000" stroke-width="1"/>
<line x1="914.4" y1="683.4" x2="914.4" y2="703.2" stroke="#000" stroke-width="2.6" stroke-linecap="square"/>
<line x1="914.4" y1="703.2" x2="914.4" y2="713.3" stroke="#000" stroke-width="1"/>
<line x1="992.5" y1="713.3" x2="1130.2" y2="713.3" stroke="#000" stroke-width="1.6" stroke-linecap="square"/>
<line x1="992.5" y1="703.2" x2="1130.2" y2="703.2" stroke="#000" stroke-width="2.2" stroke-linecap="square"/>
<line x1="992.5" y1="683.4" x2="1130.2" y2="683.4" stroke="#000" stroke-width="3" stroke-linecap="square"/>
<line x1="992.5" y1="683.4" x2="992.5" y2="703.2" stroke="#000" stroke-width="2.6" stroke-linecap="square"/>
<line x1="992.5" y1="703.2" x2="992.5" y2="713.3" stroke="#000" stroke-width="1"/>
<line x1="1130.2" y1="683.4" x2="1130.2" y2="703.2" stroke="#000" stroke-width="2.6" stroke-linecap="square"/>
<line x1="1130.2" y1="703.2" x2="1130.2" y2="713.3" stroke="#000" stroke-width="1"/>
<line x1="1208.8" y1="713.3" x2="1290.6" y2="713.3" stroke="#000" stroke-width="1.6" stroke-linecap="square"/>
<line x1="1208.8" y1="703.2" x2="1280.4" y2="703.2" stroke="#000" stroke-width="2.2" stroke-linecap="square"/>
<line x1="1208.8" y1="683.4" x2="1261" y2="683.4" stroke="#000" stroke-width="3" stroke-linecap="square"/>
<line x1="1208.8" y1="683.4" x2="1208.8" y2="703.2" stroke="#000" stroke-width="2.6" stroke-linecap="square"/>
<line x1="1208.8" y1="703.2" x2="1208.8" y2="713.3" stroke="#000" stroke-width="1"/>
<line x1="497.5" y1="110.3" x2="497.5" y2="362.2" stroke="#000" stroke-width="1.6" stroke-linecap="square"/>
<line x1="507.8" y1="120" x2="507.8" y2="362.2" stroke="#000" stroke-width="2.2" stroke-linecap="square"/>
<line x1="526.8" y1="139.7" x2="526.8" y2="362.2" stroke="#000" stroke-width="3" stroke-linecap="square"/>
<line x1="507.8" y1="362.2" x2="526.8" y2="362.2" stroke="#000" stroke-width="2.6" stroke-linecap="square"/>
<line x1="497.5" y1="362.2" x2="507.8" y2="362.2" stroke="#000" stroke-width="1"/>
<line x1="497.5" y1="440.4" x2="497.5" y2="547" stroke="#000" stroke-width="1.6" stroke-linecap="square"/>
<line x1="507.8" y1="440.4" x2="507.8" y2="547" stroke="#000" stroke-width="2.2" stroke-linecap="square"/>
<line x1="526.8" y1="440.4" x2="526.8" y2="547" stroke="#000" stroke-width="3" stroke-linecap="square"/>
<line x1="507.8" y1="440.4" x2="526.8" y2="440.4" stroke="#000" stroke-width="2.6" stroke-linecap="square"/>
<line x1="497.5" y1="440.4" x2="507.8" y2="440.4" stroke="#000" stroke-width="1"/>
<line x1="507.8" y1="547" x2="526.8" y2="547" stroke="#000" stroke-width="2.6" stroke-linecap="square"/>
<line x1="497.5" y1="547" x2="507.8" y2="547" stroke="#000" stroke-width="1"/>
<line x1="497.5" y1="624.5" x2="497.5" y2="713.3" stroke="#000" stroke-width="1.6" stroke-linecap="square"/>
<line x1="507.8" y1="624.5" x2="507.8" y2="703.2" stroke="#000" stroke-width="2.2" stroke-linecap="square"/>
<line x1="526.8" y1="624.5" x2="526.8" y2="683.4" stroke="#000" stroke-width="3" stroke-linecap="square"/>
<line x1="507.8" y1="624.5" x2="526.8" y2="624.5" stroke="#000" stroke-width="2.6" stroke-linecap="square"/>
<line x1="497.5" y1="624.5" x2="507.8" y2="624.5" stroke="#000" stroke-width="1"/>
<line x1="1290.6" y1="110.3" x2="1290.6" y2="713.3" stroke="#000" stroke-width="1.6" stroke-linecap="square"/>
<line x1="1280.4" y1="120" x2="1280.4" y2="703.2" stroke="#000" stroke-width="2.2" stroke-linecap="square"/>
<line x1="1261" y1="139.7" x2="1261" y2="683.4" stroke="#000" stroke-width="3" stroke-linecap="square"/>
<polygon points="703.8,139.7 710.3,139.7 710.3,306.4 730,306.4 730,313 703.8,313" fill="url(#hp)" stroke="#000" stroke-width="2" stroke-linejoin="miter"/>
<polygon points="808.8,139.7 815.4,139.7 815.4,210.7 808.8,210.7" fill="url(#hp)" stroke="#000" stroke-width="2" stroke-linejoin="miter"/>
<polygon points="808.8,259.5 815.4,259.5 815.4,306.4 874.6,306.4 874.6,231.4 935.5,231.4 935.5,139.7 943.3,139.7 943.3,238 880.7,238 880.7,355.6 941.4,355.6 941.4,362 874.6,362 874.6,313 801.3,313 801.3,306.4 808.8,306.4" fill="url(#hp)" stroke="#000" stroke-width="2" stroke-linejoin="miter"/>
<polygon points="1038,139.7 1045.2,139.7 1045.2,355.8 1071.5,355.8 1071.5,362 990.2,362 990.2,355.6 1038,355.6" fill="url(#hp)" stroke="#000" stroke-width="2" stroke-linejoin="miter"/>
<polygon points="1129.6,355.8 1261,355.8 1261,362 1143.4,362 1143.4,377.8 1136.5,377.8 1136.5,362 1129.6,362" fill="url(#hp)" stroke="#000" stroke-width="2" stroke-linejoin="miter"/>
<polygon points="1136.5,435.9 1143.4,435.9 1143.4,441 1261,441 1261,447.7 1129.6,447.7 1129.6,441 1136.5,441" fill="url(#hp)" stroke="#000" stroke-width="2" stroke-linejoin="miter"/>
<polygon points="854.4,441.1 992.9,441.1 992.9,448 861.6,448 861.6,683.4 854.4,683.4" fill="url(#hp)" stroke="#000" stroke-width="2" stroke-linejoin="miter"/>
<polygon points="1050.8,441.1 1071.5,441.1 1071.5,447.9 1064.6,447.9 1064.6,683.4 1057.7,683.4 1057.7,447.9 1050.8,447.9" fill="url(#hp)" stroke="#000" stroke-width="2" stroke-linejoin="miter"/>
<line x1="448.4" y1="61.7" x2="798" y2="411.4" stroke="#3a3ac8" stroke-width="1.1" stroke-dasharray="9 5"/>
<line x1="448.4" y1="761" x2="798" y2="411.4" stroke="#3a3ac8" stroke-width="1.1" stroke-dasharray="9 5"/>
<line x1="1339" y1="61.7" x2="989.3" y2="411.4" stroke="#3a3ac8" stroke-width="1.1" stroke-dasharray="9 5"/>
<line x1="1339" y1="761" x2="989.3" y2="411.4" stroke="#3a3ac8" stroke-width="1.1" stroke-dasharray="9 5"/>
<line x1="798" y1="411.4" x2="989.3" y2="411.4" stroke="#3a3ac8" stroke-width="1.1" stroke-dasharray="9 5"/>
<line x1="599.3" y1="110.7" x2="647.9" y2="110.7" stroke="#5a5aa0" stroke-width="1.6"/>
<line x1="599.3" y1="120" x2="647.9" y2="120" stroke="#66669a" stroke-width="1.2"/>
<rect x="601.1" y="121.4" width="45" height="6.2" fill="#d4d4fa" stroke="#3a3ae0" stroke-width="1.1"/>
<line x1="605.3" y1="124.5" x2="641.9" y2="124.5" stroke="#3a3ae0" stroke-width="0.9"/>
<rect x="601.5" y="122.3" width="3.6" height="4.4" fill="#fff" stroke="#3a3ae0" stroke-width="0.9"/>
<rect x="642.1" y="122.3" width="3.6" height="4.4" fill="#fff" stroke="#3a3ae0" stroke-width="0.9"/>
<line x1="599.3" y1="139.7" x2="647.9" y2="139.7" stroke="#16164a" stroke-width="2"/>
<line x1="858.4" y1="110.7" x2="906.3" y2="110.7" stroke="#5a5aa0" stroke-width="1.6"/>
<line x1="858.4" y1="120" x2="906.3" y2="120" stroke="#66669a" stroke-width="1.2"/>
<rect x="860.2" y="121.4" width="44.3" height="6.2" fill="#d4d4fa" stroke="#3a3ae0" stroke-width="1.1"/>
<line x1="864.4" y1="124.5" x2="900.3" y2="124.5" stroke="#3a3ae0" stroke-width="0.9"/>
<rect x="860.6" y="122.3" width="3.6" height="4.4" fill="#fff" stroke="#3a3ae0" stroke-width="0.9"/>
<rect x="900.5" y="122.3" width="3.6" height="4.4" fill="#fff" stroke="#3a3ae0" stroke-width="0.9"/>
<line x1="858.4" y1="139.7" x2="906.3" y2="139.7" stroke="#16164a" stroke-width="2"/>
<line x1="950.3" y1="110.7" x2="998.1" y2="110.7" stroke="#5a5aa0" stroke-width="1.6"/>
<line x1="950.3" y1="120" x2="998.1" y2="120" stroke="#66669a" stroke-width="1.2"/>
<rect x="952.1" y="121.4" width="44.2" height="6.2" fill="#d4d4fa" stroke="#3a3ae0" stroke-width="1.1"/>
<line x1="956.3" y1="124.5" x2="992.1" y2="124.5" stroke="#3a3ae0" stroke-width="0.9"/>
<rect x="952.5" y="122.3" width="3.6" height="4.4" fill="#fff" stroke="#3a3ae0" stroke-width="0.9"/>
<rect x="992.3" y="122.3" width="3.6" height="4.4" fill="#fff" stroke="#3a3ae0" stroke-width="0.9"/>
<line x1="950.3" y1="139.7" x2="998.1" y2="139.7" stroke="#16164a" stroke-width="2"/>
<line x1="1094.3" y1="110.7" x2="1172.2" y2="110.7" stroke="#5a5aa0" stroke-width="1.6"/>
<line x1="1094.3" y1="120" x2="1172.2" y2="120" stroke="#66669a" stroke-width="1.2"/>
<rect x="1096.1" y="121.4" width="74.3" height="6.2" fill="#d4d4fa" stroke="#3a3ae0" stroke-width="1.1"/>
<line x1="1100.3" y1="124.5" x2="1166.2" y2="124.5" stroke="#3a3ae0" stroke-width="0.9"/>
<rect x="1096.5" y="122.3" width="3.6" height="4.4" fill="#fff" stroke="#3a3ae0" stroke-width="0.9"/>
<rect x="1166.4" y="122.3" width="3.6" height="4.4" fill="#fff" stroke="#3a3ae0" stroke-width="0.9"/>
<line x1="1094.3" y1="139.7" x2="1172.2" y2="139.7" stroke="#16164a" stroke-width="2"/>
<line x1="914.4" y1="712.9" x2="992.5" y2="712.9" stroke="#3a3ae0" stroke-width="1.5"/>
<line x1="914.4" y1="683.7" x2="992.5" y2="683.7" stroke="#2a2a90" stroke-width="1.1"/>
<rect x="916.2" y="696.2" width="74.5" height="6.2" fill="#d4d4fa" stroke="#3a3ae0" stroke-width="1.1"/>
<line x1="920.4" y1="699.3" x2="986.5" y2="699.3" stroke="#3a3ae0" stroke-width="0.9"/>
<rect x="916.6" y="697.1" width="3.6" height="4.4" fill="#fff" stroke="#3a3ae0" stroke-width="0.9"/>
<rect x="986.7" y="697.1" width="3.6" height="4.4" fill="#fff" stroke="#3a3ae0" stroke-width="0.9"/>
<line x1="1130.2" y1="712.9" x2="1208.8" y2="712.9" stroke="#3a3ae0" stroke-width="1.5"/>
<line x1="1130.2" y1="683.7" x2="1208.8" y2="683.7" stroke="#2a2a90" stroke-width="1.1"/>
<rect x="1132" y="696.2" width="75" height="6.2" fill="#d4d4fa" stroke="#3a3ae0" stroke-width="1.1"/>
<line x1="1136.2" y1="699.3" x2="1202.8" y2="699.3" stroke="#3a3ae0" stroke-width="0.9"/>
<rect x="1132.4" y="697.1" width="3.6" height="4.4" fill="#fff" stroke="#3a3ae0" stroke-width="0.9"/>
<rect x="1203" y="697.1" width="3.6" height="4.4" fill="#fff" stroke="#3a3ae0" stroke-width="0.9"/>
<line x1="497.9" y1="362.2" x2="497.9" y2="440.4" stroke="#5a5ab0" stroke-width="1.5"/>
<rect x="507.2" y="364" width="4.6" height="74.6" fill="none" stroke="#3a3ae0" stroke-width="1"/>
<line x1="509.5" y1="367.2" x2="509.5" y2="435.4" stroke="#3a3ae0" stroke-width="0.8"/>
<line x1="526.8" y1="362.2" x2="526.8" y2="440.4" stroke="#24244a" stroke-width="1.2"/>
<line x1="497.9" y1="547" x2="497.9" y2="624.5" stroke="#5a5ab0" stroke-width="1.5"/>
<rect x="507.2" y="548.8" width="4.6" height="73.9" fill="none" stroke="#3a3ae0" stroke-width="1"/>
<line x1="509.5" y1="552" x2="509.5" y2="619.5" stroke="#3a3ae0" stroke-width="0.8"/>
<line x1="526.8" y1="547" x2="526.8" y2="624.5" stroke="#24244a" stroke-width="1.2"/>
<line x1="736.8" y1="110.5" x2="802.2" y2="110.5" stroke="#555" stroke-width="1.4"/>
<line x1="736.8" y1="119.7" x2="802.2" y2="119.7" stroke="#555" stroke-width="1.4"/>
<line x1="740.5" y1="124.3" x2="797.8" y2="124.3" stroke="#3a3ae0" stroke-width="1"/>
<line x1="736.8" y1="139.7" x2="802.2" y2="139.7" stroke="#333" stroke-width="2"/>
<line x1="740.5" y1="120" x2="740.5" y2="139.7" stroke="#3a3ae0" stroke-width="1"/>
<line x1="797.8" y1="120" x2="797.8" y2="181.6" stroke="#3a3ae0" stroke-width="1.1"/>
<path d="M740.5,124.3 A57.3,57.3 0 0 0 797.8,181.6" fill="none" stroke="#3a3ae0" stroke-width="1.1"/>
<line x1="566.5" y1="712.9" x2="782.6" y2="712.9" stroke="#3a3ae0" stroke-width="1.5"/>
<line x1="566.5" y1="683.7" x2="782.6" y2="683.7" stroke="#1c1c58" stroke-width="1.4"/>
<rect x="568" y="698.4" width="210" height="4.6" fill="#b4b4f4" stroke="#2a2ab0" stroke-width="1.1"/>
<line x1="570" y1="700.7" x2="776" y2="700.7" stroke="#8a8af0" stroke-width="1"/>
<rect x="568.6" y="698.6" width="3.4" height="4.2" fill="#fff" stroke="#3a3ae0" stroke-width="0.9"/>
<rect x="642.3" y="698.6" width="3.4" height="4.2" fill="#fff" stroke="#3a3ae0" stroke-width="0.9"/>
<rect x="645.8" y="698.6" width="3.4" height="4.2" fill="#fff" stroke="#3a3ae0" stroke-width="0.9"/>
<rect x="718.8" y="698.6" width="3.4" height="4.2" fill="#fff" stroke="#3a3ae0" stroke-width="0.9"/>
<line x1="777.8" y1="648.7" x2="777.8" y2="703" stroke="#3a3ae0" stroke-width="1.1"/>
<path d="M727.8,701 A50,52.3 0 0 1 777.8,648.7" fill="none" stroke="#3a3ae0" stroke-width="1.1"/>
<line x1="808.8" y1="210.7" x2="808.8" y2="259.5" stroke="#3a3ae0" stroke-width="1"/>
<line x1="815.4" y1="210.7" x2="815.4" y2="259.5" stroke="#3a3ae0" stroke-width="1"/>
<line x1="815.4" y1="257.6" x2="859.8" y2="257.6" stroke="#3a3ae0" stroke-width="1.1"/>
<path d="M815.4,213 A44.6,44.6 0 0 1 859.8,257.6" fill="none" stroke="#3a3ae0" stroke-width="1.1"/>
<line x1="941.4" y1="355.6" x2="990.2" y2="355.6" stroke="#3a3ae0" stroke-width="1"/>
<line x1="941.4" y1="362" x2="990.2" y2="362" stroke="#3a3ae0" stroke-width="1"/>
<line x1="943.8" y1="312.4" x2="943.8" y2="358" stroke="#3a3ae0" stroke-width="1.1"/>
<path d="M943.8,312.4 A45,45 0 0 1 988.8,357.4" fill="none" stroke="#3a3ae0" stroke-width="1.1"/>
<line x1="1071.5" y1="355.8" x2="1129.6" y2="355.8" stroke="#3a3ae0" stroke-width="1"/>
<line x1="1071.5" y1="362" x2="1129.6" y2="362" stroke="#3a3ae0" stroke-width="1"/>
<line x1="1073.5" y1="302" x2="1073.5" y2="356" stroke="#3a3ae0" stroke-width="1.1"/>
<path d="M1073.5,302 A54,54 0 0 1 1127.5,356" fill="none" stroke="#3a3ae0" stroke-width="1.1"/>
<line x1="992.9" y1="441.1" x2="1050.8" y2="441.1" stroke="#3a3ae0" stroke-width="1"/>
<line x1="992.9" y1="448" x2="1050.8" y2="448" stroke="#3a3ae0" stroke-width="1"/>
<line x1="1048.6" y1="448" x2="1048.6" y2="501.8" stroke="#3a3ae0" stroke-width="1.1"/>
<path d="M994.8,448 A53.8,53.8 0 0 0 1048.6,501.8" fill="none" stroke="#3a3ae0" stroke-width="1.1"/>
<line x1="1071.5" y1="441" x2="1129.6" y2="441" stroke="#3a3ae0" stroke-width="1"/>
<line x1="1071.5" y1="447.7" x2="1129.6" y2="447.7" stroke="#3a3ae0" stroke-width="1"/>
<line x1="1073.5" y1="447.7" x2="1073.5" y2="501.5" stroke="#3a3ae0" stroke-width="1.1"/>
<path d="M1073.5,501.5 A54,54 0 0 0 1127.5,447.7" fill="none" stroke="#3a3ae0" stroke-width="1.1"/>
<line x1="1136.5" y1="377.8" x2="1136.5" y2="435.9" stroke="#3a3ae0" stroke-width="1"/>
<line x1="1143.4" y1="377.8" x2="1143.4" y2="435.9" stroke="#3a3ae0" stroke-width="1"/>
<rect x="1136.5" y="377.8" width="6.9" height="3" fill="none" stroke="#3a3ae0" stroke-width="0.8"/>
<rect x="1136.5" y="432.9" width="6.9" height="3" fill="none" stroke="#3a3ae0" stroke-width="0.8"/>
<path d="M1082.3,426 L1082.3,434 L1136.5,434" fill="none" stroke="#3a3ae0" stroke-width="1.1"/>
<path d="M1082.5,426 A54,54 0 0 1 1136.5,380" fill="none" stroke="#3a3ae0" stroke-width="1.1"/>
<polyline points="565,188.5 565,178.4 665.4,178.4 665.4,313" fill="none" stroke="#5a5af0" stroke-width="2.6"/>
<rect x="527.5" y="188.5" width="37.5" height="128.2" fill="none" stroke="#5a5af0" stroke-width="1.3"/>
<line x1="527.5" y1="227.6" x2="565" y2="227.6" stroke="#5a5af0" stroke-width="1.3"/>
<line x1="527.5" y1="267.3" x2="565" y2="267.3" stroke="#5a5af0" stroke-width="1.3"/>
<line x1="560.9" y1="267.3" x2="560.9" y2="316.7" stroke="#5a5af0" stroke-width="1.1"/>
<circle cx="536.5" cy="198.5" r="6.5" fill="none" stroke="#3a3ae0" stroke-width="1"/>
<circle cx="556.6" cy="198.5" r="6.5" fill="none" stroke="#3a3ae0" stroke-width="1"/>
<circle cx="536.5" cy="218.2" r="6.5" fill="none" stroke="#3a3ae0" stroke-width="1"/>
<circle cx="556.6" cy="218.2" r="6.5" fill="none" stroke="#3a3ae0" stroke-width="1"/>
<rect x="665.4" y="192" width="38.5" height="121" fill="none" stroke="#5a5af0" stroke-width="1.3"/>
<line x1="665.4" y1="244.4" x2="703.9" y2="244.4" stroke="#5a5af0" stroke-width="1.2"/>
<rect x="671" y="194.7" width="26.3" height="22" fill="none" stroke="#3a3ae0" stroke-width="1"/>
<rect x="671" y="219.7" width="26.3" height="22" fill="none" stroke="#3a3ae0" stroke-width="1"/>
<text x="550" y="208.5" font-family="'Liberation Serif', serif" font-size="11" font-weight="bold" fill="#1e1ed0" stroke="#1e1ed0" stroke-width="0.49" stroke-linejoin="round" text-anchor="middle" transform="rotate(-90 550 208.5)">GT</text>
<text x="550.5" y="292" font-family="'Liberation Serif', serif" font-size="11" font-weight="bold" fill="#1e1ed0" stroke="#1e1ed0" stroke-width="0.49" stroke-linejoin="round" text-anchor="middle" transform="rotate(-90 550.5 292)">H</text>
<text x="680" y="267.5" font-family="'Liberation Serif', serif" font-size="10" font-weight="bold" fill="#1e1ed0" stroke="#1e1ed0" stroke-width="0.45" stroke-linejoin="round" text-anchor="middle" transform="rotate(90 680 267.5)">MG</text>
<rect x="526.8" y="377" width="78.8" height="49.6" fill="none" stroke="#3a3ae0" stroke-width="1"/>
<rect x="535.3" y="348.4" width="27" height="26.9" fill="none" stroke="#3a3ae0" stroke-width="1"/>
<line x1="535.3" y1="351" x2="562.3" y2="351" stroke="#3a3ae0" stroke-width="1"/>
<rect x="568.6" y="348.4" width="26.5" height="26.9" fill="none" stroke="#3a3ae0" stroke-width="1"/>
<line x1="568.6" y1="351" x2="595.1" y2="351" stroke="#3a3ae0" stroke-width="1"/>
<rect x="535.3" y="428.3" width="27" height="26.8" fill="none" stroke="#3a3ae0" stroke-width="1"/>
<line x1="535.3" y1="452.2" x2="562.3" y2="452.2" stroke="#3a3ae0" stroke-width="1"/>
<rect x="568.6" y="428.3" width="26.5" height="26.8" fill="none" stroke="#3a3ae0" stroke-width="1"/>
<line x1="568.6" y1="452.2" x2="595.1" y2="452.2" stroke="#3a3ae0" stroke-width="1"/>
<rect x="609.6" y="390.2" width="26.3" height="26.5" fill="none" stroke="#3a3ae0" stroke-width="1"/>
<line x1="632.6" y1="390.2" x2="632.6" y2="416.7" stroke="#3a3ae0" stroke-width="1"/>
<path d="M815.4,157 L834,156 A15,19.2 0 0 1 834,194.4 L815.4,193" fill="none" stroke="#3a3ae0" stroke-width="1"/>
<ellipse cx="834" cy="175" rx="12.2" ry="17.6" fill="none" stroke="#3a3ae0" stroke-width="1"/>
<line x1="933.8" y1="139.7" x2="933.8" y2="231.4" stroke="#3a3ae0" stroke-width="1"/>
<path d="M877.1,231.4 A58.4,58.4 0 0 1 935.5,173" fill="none" stroke="#3a3ae0" stroke-width="1"/>
<path d="M880.6,231 A55,55 0 0 1 933.6,176.3" fill="none" stroke="#3a3ae0" stroke-width="1"/>
<path d="M886,228.2 Q881.6,228.2 881.6,223.6 A50,50 0 0 1 927.8,177.2 Q932.2,177.2 932.2,181.6 L932.2,223.8 Q932.2,228.2 927.8,228.2 Z" fill="none" stroke="#3a3ae0" stroke-width="1"/>
<ellipse cx="844.5" cy="277.6" rx="12.2" ry="13.6" fill="none" stroke="#3a3ae0" stroke-width="1.1"/>
<rect x="830.6" y="295" width="28.8" height="11.4" fill="none" stroke="#3a3ae0" stroke-width="1" rx="4"/>
<rect x="880.7" y="238" width="52.5" height="117.6" fill="none" stroke="#1a1a8a" stroke-width="1.1"/>
<rect x="884.4" y="241.5" width="45" height="111.5" fill="none" stroke="#3a3ae0" stroke-width="1" rx="12"/>
<ellipse cx="1009.8" cy="180.7" rx="14" ry="11.6" fill="none" stroke="#3a3ae0" stroke-width="1.1"/>
<rect x="1026.5" y="165.6" width="11.5" height="29.3" fill="none" stroke="#3a3ae0" stroke-width="1" rx="3.5"/>
<path d="M1038,232.5 L1020,231.8 A12.4,18.6 0 0 0 1020,269.2 L1038,269.6" fill="none" stroke="#3a3ae0" stroke-width="1"/>
<ellipse cx="1018.8" cy="250.5" rx="12.4" ry="18.6" fill="none" stroke="#3a3ae0" stroke-width="1.0"/>
<rect x="995.1" y="313.6" width="40.1" height="39.4" fill="none" stroke="#3a3ae0" stroke-width="1"/>
<text x="1015.2" y="328.4" font-family="'Liberation Serif', serif" font-size="12" font-weight="bold" fill="#1e1ed0" stroke="#1e1ed0" stroke-width="0.54" stroke-linejoin="round" text-anchor="middle" transform="rotate(180 1015.2 328.4)">M</text>
<text x="588.5" y="266" font-family="'Liberation Serif', serif" font-size="28.5" font-weight="bold" fill="#111" stroke="#111" stroke-width="0.75" stroke-linejoin="round" textLength="51.5" lengthAdjust="spacingAndGlyphs">102</text>
<text x="731" y="291.5" font-family="'Liberation Serif', serif" font-size="28.5" font-weight="bold" fill="#111" stroke="#111" stroke-width="0.75" stroke-linejoin="round" textLength="50.6" lengthAdjust="spacingAndGlyphs">101</text>
<text x="822.9" y="218.2" font-family="'Liberation Serif', serif" font-size="28.5" font-weight="bold" fill="#111" stroke="#111" stroke-width="0.75" stroke-linejoin="round" textLength="51.6" lengthAdjust="spacingAndGlyphs">109</text>
<text x="946.7" y="260.6" font-family="'Liberation Serif', serif" font-size="28.5" font-weight="bold" fill="#111" stroke="#111" stroke-width="0.75" stroke-linejoin="round" textLength="51.8" lengthAdjust="spacingAndGlyphs">108</text>
<text x="1132.9" y="260.8" font-family="'Liberation Serif', serif" font-size="28.5" font-weight="bold" fill="#111" stroke="#111" stroke-width="0.75" stroke-linejoin="round" textLength="53.1" lengthAdjust="spacingAndGlyphs">107</text>
<text x="894" y="396.7" font-family="'Liberation Serif', serif" font-size="28.5" font-weight="bold" fill="#111" stroke="#111" stroke-width="0.75" stroke-linejoin="round" textLength="52.4" lengthAdjust="spacingAndGlyphs">104</text>
<text x="1203.5" y="387.6" font-family="'Liberation Serif', serif" font-size="28.5" font-weight="bold" fill="#111" stroke="#111" stroke-width="0.75" stroke-linejoin="round" textLength="52.2" lengthAdjust="spacingAndGlyphs">110</text>
<text x="672" y="505.8" font-family="'Liberation Serif', serif" font-size="28.5" font-weight="bold" fill="#111" stroke="#111" stroke-width="0.75" stroke-linejoin="round" textLength="51.8" lengthAdjust="spacingAndGlyphs">103</text>
<text x="932.8" y="574.8" font-family="'Liberation Serif', serif" font-size="28.5" font-weight="bold" fill="#111" stroke="#111" stroke-width="0.75" stroke-linejoin="round" textLength="52.7" lengthAdjust="spacingAndGlyphs">105</text>
<text x="1132.9" y="575.7" font-family="'Liberation Serif', serif" font-size="28.5" font-weight="bold" fill="#111" stroke="#111" stroke-width="0.75" stroke-linejoin="round" textLength="53.1" lengthAdjust="spacingAndGlyphs">106</text>
<text x="582.9" y="165.6" font-family="'Liberation Serif', serif" font-size="19" font-weight="bold" fill="#111" stroke="#111" stroke-width="0.75" stroke-linejoin="round" textLength="80.6" lengthAdjust="spacingAndGlyphs">pm 0,90</text>
<text x="841.8" y="164.8" font-family="'Liberation Serif', serif" font-size="19" font-weight="bold" fill="#111" stroke="#111" stroke-width="0.75" stroke-linejoin="round" textLength="81" lengthAdjust="spacingAndGlyphs">pm 0,90</text>
<text x="934.3" y="165" font-family="'Liberation Serif', serif" font-size="19" font-weight="bold" fill="#111" stroke="#111" stroke-width="0.75" stroke-linejoin="round" textLength="80" lengthAdjust="spacingAndGlyphs">pm 0,90</text>
<text x="1092.4" y="164.8" font-family="'Liberation Serif', serif" font-size="19" font-weight="bold" fill="#111" stroke="#111" stroke-width="0.75" stroke-linejoin="round" textLength="80.3" lengthAdjust="spacingAndGlyphs">pm 0,90</text>
<text x="912.4" y="670" font-family="'Liberation Serif', serif" font-size="19" font-weight="bold" fill="#111" stroke="#111" stroke-width="0.75" stroke-linejoin="round" textLength="80.5" lengthAdjust="spacingAndGlyphs">pm 0,90</text>
<text x="1128.8" y="670" font-family="'Liberation Serif', serif" font-size="19" font-weight="bold" fill="#111" stroke="#111" stroke-width="0.75" stroke-linejoin="round" textLength="80.4" lengthAdjust="spacingAndGlyphs">pm 0,90</text>
<text x="565.6" y="670" font-family="'Liberation Serif', serif" font-size="19" font-weight="bold" fill="#111" stroke="#111" stroke-width="0.75" stroke-linejoin="round" textLength="79.9" lengthAdjust="spacingAndGlyphs">pm 0,00</text>
<text x="643.5" y="670" font-family="'Liberation Serif', serif" font-size="19" font-weight="bold" fill="#111" stroke="#111" stroke-width="0.75" stroke-linejoin="round" textLength="80" lengthAdjust="spacingAndGlyphs">pm 0,00</text>
<text x="553.2" y="441.7" font-family="'Liberation Serif', serif" font-size="19" font-weight="bold" fill="#111" stroke="#111" stroke-width="0.75" stroke-linejoin="round" textLength="80.8" lengthAdjust="spacingAndGlyphs" transform="rotate(-90 553.2 441.7)">pm 0,00</text>
<text x="553.6" y="625.9" font-family="'Liberation Serif', serif" font-size="19" font-weight="bold" fill="#111" stroke="#111" stroke-width="0.75" stroke-linejoin="round" textLength="81.6" lengthAdjust="spacingAndGlyphs" transform="rotate(-90 553.6 625.9)">pm 0,00</text>
<text x="617.4" y="64.5" font-family="'Liberation Serif', serif" font-size="19.5" font-weight="bold" fill="#111" stroke="#111" stroke-width="0.75" stroke-linejoin="round" textLength="22.5" lengthAdjust="spacingAndGlyphs" transform="rotate(-90 617.4 64.5)">75</text>
<text x="643.8" y="76.2" font-family="'Liberation Serif', serif" font-size="19.5" font-weight="bold" fill="#111" stroke="#111" stroke-width="0.75" stroke-linejoin="round" textLength="34.4" lengthAdjust="spacingAndGlyphs" transform="rotate(-90 643.8 76.2)">150</text>
<text x="876.2" y="64.5" font-family="'Liberation Serif', serif" font-size="19.5" font-weight="bold" fill="#111" stroke="#111" stroke-width="0.75" stroke-linejoin="round" textLength="22.5" lengthAdjust="spacingAndGlyphs" transform="rotate(-90 876.2 64.5)">75</text>
<text x="902.6" y="76.2" font-family="'Liberation Serif', serif" font-size="19.5" font-weight="bold" fill="#111" stroke="#111" stroke-width="0.75" stroke-linejoin="round" textLength="34.4" lengthAdjust="spacingAndGlyphs" transform="rotate(-90 902.6 76.2)">150</text>
<text x="968.1" y="64.5" font-family="'Liberation Serif', serif" font-size="19.5" font-weight="bold" fill="#111" stroke="#111" stroke-width="0.75" stroke-linejoin="round" textLength="22.5" lengthAdjust="spacingAndGlyphs" transform="rotate(-90 968.1 64.5)">75</text>
<text x="994.5" y="76.2" font-family="'Liberation Serif', serif" font-size="19.5" font-weight="bold" fill="#111" stroke="#111" stroke-width="0.75" stroke-linejoin="round" textLength="34.4" lengthAdjust="spacingAndGlyphs" transform="rotate(-90 994.5 76.2)">150</text>
<text x="1126.6" y="76.2" font-family="'Liberation Serif', serif" font-size="19.5" font-weight="bold" fill="#111" stroke="#111" stroke-width="0.75" stroke-linejoin="round" textLength="34.4" lengthAdjust="spacingAndGlyphs" transform="rotate(-90 1126.6 76.2)">120</text>
<text x="1153" y="76.2" font-family="'Liberation Serif', serif" font-size="19.5" font-weight="bold" fill="#111" stroke="#111" stroke-width="0.75" stroke-linejoin="round" textLength="34.4" lengthAdjust="spacingAndGlyphs" transform="rotate(-90 1153 76.2)">150</text>
<text x="762.4" y="77.7" font-family="'Liberation Serif', serif" font-size="19.5" font-weight="bold" fill="#111" stroke="#111" stroke-width="0.75" stroke-linejoin="round" textLength="36" lengthAdjust="spacingAndGlyphs" transform="rotate(-90 762.4 77.7)">100</text>
<text x="789.2" y="77.7" font-family="'Liberation Serif', serif" font-size="19.5" font-weight="bold" fill="#111" stroke="#111" stroke-width="0.75" stroke-linejoin="round" textLength="36" lengthAdjust="spacingAndGlyphs" transform="rotate(-90 789.2 77.7)">210</text>
<text x="600.4" y="779.8" font-family="'Liberation Serif', serif" font-size="19.5" font-weight="bold" fill="#111" stroke="#111" stroke-width="0.75" stroke-linejoin="round" textLength="34.8" lengthAdjust="spacingAndGlyphs" transform="rotate(-90 600.4 779.8)">120</text>
<text x="626.2" y="780.8" font-family="'Liberation Serif', serif" font-size="19.5" font-weight="bold" fill="#111" stroke="#111" stroke-width="0.75" stroke-linejoin="round" textLength="35.8" lengthAdjust="spacingAndGlyphs" transform="rotate(-90 626.2 780.8)">240</text>
<text x="679.1" y="779.8" font-family="'Liberation Serif', serif" font-size="19.5" font-weight="bold" fill="#111" stroke="#111" stroke-width="0.75" stroke-linejoin="round" textLength="34.8" lengthAdjust="spacingAndGlyphs" transform="rotate(-90 679.1 779.8)">120</text>
<text x="704.9" y="780.8" font-family="'Liberation Serif', serif" font-size="19.5" font-weight="bold" fill="#111" stroke="#111" stroke-width="0.75" stroke-linejoin="round" textLength="35.8" lengthAdjust="spacingAndGlyphs" transform="rotate(-90 704.9 780.8)">240</text>
<text x="947.6" y="779.8" font-family="'Liberation Serif', serif" font-size="19.5" font-weight="bold" fill="#111" stroke="#111" stroke-width="0.75" stroke-linejoin="round" textLength="34.8" lengthAdjust="spacingAndGlyphs" transform="rotate(-90 947.6 779.8)">120</text>
<text x="973.4" y="780.8" font-family="'Liberation Serif', serif" font-size="19.5" font-weight="bold" fill="#111" stroke="#111" stroke-width="0.75" stroke-linejoin="round" textLength="35.8" lengthAdjust="spacingAndGlyphs" transform="rotate(-90 973.4 780.8)">150</text>
<text x="1164" y="779.8" font-family="'Liberation Serif', serif" font-size="19.5" font-weight="bold" fill="#111" stroke="#111" stroke-width="0.75" stroke-linejoin="round" textLength="34.8" lengthAdjust="spacingAndGlyphs" transform="rotate(-90 1164 779.8)">120</text>
<text x="1189.8" y="780.8" font-family="'Liberation Serif', serif" font-size="19.5" font-weight="bold" fill="#111" stroke="#111" stroke-width="0.75" stroke-linejoin="round" textLength="35.8" lengthAdjust="spacingAndGlyphs" transform="rotate(-90 1189.8 780.8)">150</text>
<text x="747.6" y="767.5" font-family="'Liberation Serif', serif" font-size="19.5" font-weight="bold" fill="#111" stroke="#111" stroke-width="0.75" stroke-linejoin="round" textLength="23.5" lengthAdjust="spacingAndGlyphs" transform="rotate(-90 747.6 767.5)">90</text>
<text x="773" y="767.5" font-family="'Liberation Serif', serif" font-size="19.5" font-weight="bold" fill="#111" stroke="#111" stroke-width="0.75" stroke-linejoin="round" textLength="36" lengthAdjust="spacingAndGlyphs" transform="rotate(-90 773 767.5)">240</text>
<text x="759.5" y="376.5" font-family="'Liberation Serif', serif" font-size="19.5" font-weight="bold" fill="#111" stroke="#111" stroke-width="0.75" stroke-linejoin="round" textLength="35.5" lengthAdjust="spacingAndGlyphs" transform="rotate(-90 759.5 376.5)">110</text>
<text x="786" y="376.5" font-family="'Liberation Serif', serif" font-size="19.5" font-weight="bold" fill="#111" stroke="#111" stroke-width="0.75" stroke-linejoin="round" textLength="35.5" lengthAdjust="spacingAndGlyphs" transform="rotate(-90 786 376.5)">210</text>
<text x="960" y="427.5" font-family="'Liberation Serif', serif" font-size="19.5" font-weight="bold" fill="#111" stroke="#111" stroke-width="0.75" stroke-linejoin="round" textLength="23.2" lengthAdjust="spacingAndGlyphs" transform="rotate(-90 960 427.5)">75</text>
<text x="985.3" y="428.2" font-family="'Liberation Serif', serif" font-size="19.5" font-weight="bold" fill="#111" stroke="#111" stroke-width="0.75" stroke-linejoin="round" textLength="36.5" lengthAdjust="spacingAndGlyphs" transform="rotate(-90 985.3 428.2)">210</text>
<text x="1015.7" y="399.3" font-family="'Liberation Serif', serif" font-size="19.5" font-weight="bold" fill="#111" stroke="#111" stroke-width="0.75" stroke-linejoin="round" textLength="23.7" lengthAdjust="spacingAndGlyphs" transform="rotate(-90 1015.7 399.3)">90</text>
<text x="1041.9" y="412.8" font-family="'Liberation Serif', serif" font-size="19.5" font-weight="bold" fill="#111" stroke="#111" stroke-width="0.75" stroke-linejoin="round" textLength="36.3" lengthAdjust="spacingAndGlyphs" transform="rotate(-90 1041.9 412.8)">210</text>
<text x="1094.2" y="426" font-family="'Liberation Serif', serif" font-size="19.5" font-weight="bold" fill="#111" stroke="#111" stroke-width="0.75" stroke-linejoin="round" textLength="50.2" lengthAdjust="spacingAndGlyphs" transform="rotate(-90 1094.2 426)">9090</text>
<text x="1120.8" y="426" font-family="'Liberation Serif', serif" font-size="19.5" font-weight="bold" fill="#111" stroke="#111" stroke-width="0.75" stroke-linejoin="round" textLength="35" lengthAdjust="spacingAndGlyphs" transform="rotate(-90 1120.8 426)">210</text>
<text x="1120.8" y="411" font-family="'Liberation Serif', serif" font-size="19.5" font-weight="bold" fill="#111" stroke="#111" stroke-width="0.75" stroke-linejoin="round" textLength="35.2" lengthAdjust="spacingAndGlyphs" transform="rotate(-90 1120.8 411)">210</text>
<text x="744" y="227.6" font-family="'Liberation Serif', serif" font-size="19.5" font-weight="bold" fill="#111" stroke="#111" stroke-width="0.75" stroke-linejoin="round" textLength="22.6" lengthAdjust="spacingAndGlyphs">75</text>
<text x="743.6" y="254.8" font-family="'Liberation Serif', serif" font-size="19.5" font-weight="bold" fill="#111" stroke="#111" stroke-width="0.75" stroke-linejoin="round" textLength="36.1" lengthAdjust="spacingAndGlyphs">210</text>
<text x="810" y="394.2" font-family="'Liberation Serif', serif" font-size="19.5" font-weight="bold" fill="#111" stroke="#111" stroke-width="0.75" stroke-linejoin="round" textLength="35.6" lengthAdjust="spacingAndGlyphs">120</text>
<text x="810" y="420.8" font-family="'Liberation Serif', serif" font-size="19.5" font-weight="bold" fill="#111" stroke="#111" stroke-width="0.75" stroke-linejoin="round" textLength="35.6" lengthAdjust="spacingAndGlyphs">210</text>
<text x="1183.8" y="399.5" font-family="'Liberation Serif', serif" font-size="19.5" font-weight="bold" fill="#111" stroke="#111" stroke-width="0.75" stroke-linejoin="round" textLength="23.6" lengthAdjust="spacingAndGlyphs">90</text>
<text x="1171" y="426" font-family="'Liberation Serif', serif" font-size="19.5" font-weight="bold" fill="#111" stroke="#111" stroke-width="0.75" stroke-linejoin="round" textLength="36.4" lengthAdjust="spacingAndGlyphs">210</text>
<text x="429.1" y="393.7" font-family="'Liberation Serif', serif" font-size="19.5" font-weight="bold" fill="#111" stroke="#111" stroke-width="0.75" stroke-linejoin="round" textLength="35.5" lengthAdjust="spacingAndGlyphs">120</text>
<text x="428" y="420" font-family="'Liberation Serif', serif" font-size="19.5" font-weight="bold" fill="#111" stroke="#111" stroke-width="0.75" stroke-linejoin="round" textLength="36.6" lengthAdjust="spacingAndGlyphs">240</text>
<text x="429.8" y="578.3" font-family="'Liberation Serif', serif" font-size="19.5" font-weight="bold" fill="#111" stroke="#111" stroke-width="0.75" stroke-linejoin="round" textLength="35.4" lengthAdjust="spacingAndGlyphs">120</text>
<text x="428.5" y="604.1" font-family="'Liberation Serif', serif" font-size="19.5" font-weight="bold" fill="#111" stroke="#111" stroke-width="0.75" stroke-linejoin="round" textLength="36.7" lengthAdjust="spacingAndGlyphs">240</text>
<text x="293.6" y="432.4" font-family="'Liberation Sans', sans-serif" font-size="19.5" font-weight="bold" fill="#111" stroke="#111" stroke-width="0.58" stroke-linejoin="round" textLength="40.6" lengthAdjust="spacingAndGlyphs" transform="rotate(-90 293.6 432.4)">9,20</text>
<text x="294" y="831.5" font-family="'Liberation Sans', sans-serif" font-size="19.5" font-weight="bold" fill="#111" stroke="#111" stroke-width="0.58" stroke-linejoin="round" textLength="40.5" lengthAdjust="spacingAndGlyphs" transform="rotate(-90 294 831.5)">3,00</text>
<text x="323" y="95.5" font-family="'Liberation Sans', sans-serif" font-size="19.5" font-weight="bold" fill="#111" stroke="#111" stroke-width="0.58" stroke-linejoin="round" textLength="20.3" lengthAdjust="spacingAndGlyphs" transform="rotate(-90 323 95.5)">15</text>
<text x="323" y="173.2" font-family="'Liberation Sans', sans-serif" font-size="19.5" font-weight="bold" fill="#111" stroke="#111" stroke-width="0.58" stroke-linejoin="round" textLength="23.7" lengthAdjust="spacingAndGlyphs" transform="rotate(-90 323 173.2)">30</text>
<text x="323" y="432.4" font-family="'Liberation Sans', sans-serif" font-size="19.5" font-weight="bold" fill="#111" stroke="#111" stroke-width="0.58" stroke-linejoin="round" textLength="40.6" lengthAdjust="spacingAndGlyphs" transform="rotate(-90 323 432.4)">8,30</text>
<text x="323" y="670.5" font-family="'Liberation Sans', sans-serif" font-size="19.5" font-weight="bold" fill="#111" stroke="#111" stroke-width="0.58" stroke-linejoin="round" textLength="21.9" lengthAdjust="spacingAndGlyphs" transform="rotate(-90 323 670.5)">30</text>
<text x="322.8" y="745.3" font-family="'Liberation Sans', sans-serif" font-size="19.5" font-weight="bold" fill="#111" stroke="#111" stroke-width="0.58" stroke-linejoin="round" textLength="21.5" lengthAdjust="spacingAndGlyphs" transform="rotate(-90 322.8 745.3)">15</text>
<text x="352" y="283" font-family="'Liberation Sans', sans-serif" font-size="19.5" font-weight="bold" fill="#111" stroke="#111" stroke-width="0.58" stroke-linejoin="round" textLength="44" lengthAdjust="spacingAndGlyphs" transform="rotate(-90 352 283)">4,30</text>
<text x="352" y="515.1" font-family="'Liberation Sans', sans-serif" font-size="19.5" font-weight="bold" fill="#111" stroke="#111" stroke-width="0.58" stroke-linejoin="round" textLength="43.9" lengthAdjust="spacingAndGlyphs" transform="rotate(-90 352 515.1)">2,80</text>
<text x="352" y="663.8" font-family="'Liberation Sans', sans-serif" font-size="19.5" font-weight="bold" fill="#111" stroke="#111" stroke-width="0.58" stroke-linejoin="round" textLength="42.2" lengthAdjust="spacingAndGlyphs" transform="rotate(-90 352 663.8)">1,80</text>
<text x="1396" y="97.5" font-family="'Liberation Sans', sans-serif" font-size="19.5" font-weight="bold" fill="#111" stroke="#111" stroke-width="0.58" stroke-linejoin="round" textLength="20.5" lengthAdjust="spacingAndGlyphs" transform="rotate(-90 1396 97.5)">15</text>
<text x="1396" y="172.5" font-family="'Liberation Sans', sans-serif" font-size="19.5" font-weight="bold" fill="#111" stroke="#111" stroke-width="0.58" stroke-linejoin="round" textLength="22.5" lengthAdjust="spacingAndGlyphs" transform="rotate(-90 1396 172.5)">30</text>
<text x="1396" y="268" font-family="'Liberation Sans', sans-serif" font-size="19.5" font-weight="bold" fill="#111" stroke="#111" stroke-width="0.58" stroke-linejoin="round" textLength="41.1" lengthAdjust="spacingAndGlyphs" transform="rotate(-90 1396 268)">3,30</text>
<text x="1396" y="341" font-family="'Liberation Sans', sans-serif" font-size="19.5" font-weight="bold" fill="#111" stroke="#111" stroke-width="0.58" stroke-linejoin="round" textLength="18.5" lengthAdjust="spacingAndGlyphs" transform="rotate(-90 1396 341)">10</text>
<text x="1396" y="420" font-family="'Liberation Sans', sans-serif" font-size="19.5" font-weight="bold" fill="#111" stroke="#111" stroke-width="0.58" stroke-linejoin="round" textLength="39.4" lengthAdjust="spacingAndGlyphs" transform="rotate(-90 1396 420)">1,20</text>
<text x="1425.5" y="435" font-family="'Liberation Sans', sans-serif" font-size="19.5" font-weight="bold" fill="#111" stroke="#111" stroke-width="0.58" stroke-linejoin="round" textLength="45" lengthAdjust="spacingAndGlyphs" transform="rotate(-90 1425.5 435)">9,20</text>
<text x="1396" y="478.4" font-family="'Liberation Sans', sans-serif" font-size="19.5" font-weight="bold" fill="#111" stroke="#111" stroke-width="0.58" stroke-linejoin="round" textLength="19.6" lengthAdjust="spacingAndGlyphs" transform="rotate(-90 1396 478.4)">10</text>
<text x="1396" y="587.1" font-family="'Liberation Sans', sans-serif" font-size="19.5" font-weight="bold" fill="#111" stroke="#111" stroke-width="0.58" stroke-linejoin="round" textLength="42.8" lengthAdjust="spacingAndGlyphs" transform="rotate(-90 1396 587.1)">3,60</text>
<text x="1396" y="672.6" font-family="'Liberation Sans', sans-serif" font-size="19.5" font-weight="bold" fill="#111" stroke="#111" stroke-width="0.58" stroke-linejoin="round" textLength="23.1" lengthAdjust="spacingAndGlyphs" transform="rotate(-90 1396 672.6)">30</text>
<text x="1396" y="744" font-family="'Liberation Sans', sans-serif" font-size="19.5" font-weight="bold" fill="#111" stroke="#111" stroke-width="0.58" stroke-linejoin="round" textLength="18" lengthAdjust="spacingAndGlyphs" transform="rotate(-90 1396 744)">15</text>
<text x="535.9" y="939.5" font-family="'Liberation Sans', sans-serif" font-size="18" font-weight="bold" fill="#111" stroke="#111" stroke-width="0.54" stroke-linejoin="round" textLength="41.1" lengthAdjust="spacingAndGlyphs">1,50</text>
<text x="624.7" y="939.4" font-family="'Liberation Sans', sans-serif" font-size="18" font-weight="bold" fill="#111" stroke="#111" stroke-width="0.54" stroke-linejoin="round" textLength="41.2" lengthAdjust="spacingAndGlyphs">1,20</text>
<text x="698" y="939.4" font-family="'Liberation Sans', sans-serif" font-size="18" font-weight="bold" fill="#111" stroke="#111" stroke-width="0.54" stroke-linejoin="round" textLength="41.3" lengthAdjust="spacingAndGlyphs">1,05</text>
<text x="831" y="939.5" font-family="'Liberation Sans', sans-serif" font-size="18" font-weight="bold" fill="#111" stroke="#111" stroke-width="0.54" stroke-linejoin="round" textLength="43" lengthAdjust="spacingAndGlyphs">1,05</text>
<text x="1039.6" y="939.7" font-family="'Liberation Sans', sans-serif" font-size="18" font-weight="bold" fill="#111" stroke="#111" stroke-width="0.54" stroke-linejoin="round" textLength="42.8" lengthAdjust="spacingAndGlyphs">3,30</text>
<text x="1203.9" y="939.7" font-family="'Liberation Sans', sans-serif" font-size="18" font-weight="bold" fill="#111" stroke="#111" stroke-width="0.54" stroke-linejoin="round" textLength="42.7" lengthAdjust="spacingAndGlyphs">1,70</text>
<text x="464.5" y="969" font-family="'Liberation Sans', sans-serif" font-size="18" font-weight="bold" fill="#111" stroke="#111" stroke-width="0.54" stroke-linejoin="round" textLength="21.4" lengthAdjust="spacingAndGlyphs">15</text>
<text x="537.6" y="969" font-family="'Liberation Sans', sans-serif" font-size="18" font-weight="bold" fill="#111" stroke="#111" stroke-width="0.54" stroke-linejoin="round" textLength="22.5" lengthAdjust="spacingAndGlyphs">30</text>
<text x="668.8" y="969.2" font-family="'Liberation Sans', sans-serif" font-size="18" font-weight="bold" fill="#111" stroke="#111" stroke-width="0.54" stroke-linejoin="round" textLength="42.5" lengthAdjust="spacingAndGlyphs">5,00</text>
<text x="820.7" y="968.8" font-family="'Liberation Sans', sans-serif" font-size="18" font-weight="bold" fill="#111" stroke="#111" stroke-width="0.54" stroke-linejoin="round" textLength="23.3" lengthAdjust="spacingAndGlyphs">10</text>
<text x="925.6" y="968.8" font-family="'Liberation Sans', sans-serif" font-size="18" font-weight="bold" fill="#111" stroke="#111" stroke-width="0.54" stroke-linejoin="round" textLength="42.8" lengthAdjust="spacingAndGlyphs">3,00</text>
<text x="1024" y="968.8" font-family="'Liberation Sans', sans-serif" font-size="18" font-weight="bold" fill="#111" stroke="#111" stroke-width="0.54" stroke-linejoin="round" textLength="23.4" lengthAdjust="spacingAndGlyphs">10</text>
<text x="1129" y="968.8" font-family="'Liberation Sans', sans-serif" font-size="18" font-weight="bold" fill="#111" stroke="#111" stroke-width="0.54" stroke-linejoin="round" textLength="42.8" lengthAdjust="spacingAndGlyphs">3,00</text>
<text x="1225.9" y="968.8" font-family="'Liberation Sans', sans-serif" font-size="18" font-weight="bold" fill="#111" stroke="#111" stroke-width="0.54" stroke-linejoin="round" textLength="24.6" lengthAdjust="spacingAndGlyphs">30</text>
<text x="1301" y="968.8" font-family="'Liberation Sans', sans-serif" font-size="18" font-weight="bold" fill="#111" stroke="#111" stroke-width="0.54" stroke-linejoin="round" textLength="24.6" lengthAdjust="spacingAndGlyphs">15</text>
<text x="867.6" y="998.3" font-family="'Liberation Sans', sans-serif" font-size="18" font-weight="bold" fill="#111" stroke="#111" stroke-width="0.54" stroke-linejoin="round" textLength="53.6" lengthAdjust="spacingAndGlyphs">12,10</text>
<line x1="1389" y1="19.7" x2="1441" y2="19.7" stroke="#222" stroke-width="1.1"/>
<line x1="1415" y1="-6.8" x2="1415" y2="46.2" stroke="#222" stroke-width="1.1"/>
<circle cx="1415" cy="19.7" r="13.2" fill="#fff" stroke="#111" stroke-width="1.2"/>
<path d="M1415,19.7 L1415,6.5 A13.2,13.2 0 0 1 1428.2,19.7 Z" fill="#000" stroke="#000" stroke-width="0.5"/>
<path d="M1415,19.7 L1415,32.9 A13.2,13.2 0 0 1 1401.8,19.7 Z" fill="#000" stroke="#000" stroke-width="0.5"/>
<text x="1426.6" y="4.6" font-family="'Liberation Sans', sans-serif" font-size="18.5" font-weight="bold" fill="#111" stroke="#111" stroke-width="0.55" stroke-linejoin="round" textLength="50.9" lengthAdjust="spacingAndGlyphs">-0,45</text>
<line x1="1442.7" y1="327" x2="1494.7" y2="327" stroke="#222" stroke-width="1.1"/>
<line x1="1468.7" y1="300.5" x2="1468.7" y2="353.5" stroke="#222" stroke-width="1.1"/>
<circle cx="1468.7" cy="327" r="13.2" fill="#fff" stroke="#111" stroke-width="1.2"/>
<path d="M1468.7,327 L1468.7,313.8 A13.2,13.2 0 0 1 1481.9,327 Z" fill="#000" stroke="#000" stroke-width="0.5"/>
<path d="M1468.7,327 L1468.7,340.2 A13.2,13.2 0 0 1 1455.5,327 Z" fill="#000" stroke="#000" stroke-width="0.5"/>
<text x="1480" y="311.2" font-family="'Liberation Sans', sans-serif" font-size="18.5" font-weight="bold" fill="#111" stroke="#111" stroke-width="0.55" stroke-linejoin="round" textLength="50.6" lengthAdjust="spacingAndGlyphs">-0,45</text>
<line x1="673.5" y1="444" x2="725.5" y2="444" stroke="#222" stroke-width="1.1"/>
<line x1="699.5" y1="417.5" x2="699.5" y2="470.5" stroke="#222" stroke-width="1.1"/>
<circle cx="699.5" cy="444" r="13.2" fill="#fff" stroke="#111" stroke-width="1.2"/>
<path d="M699.5,444 L699.5,430.8 A13.2,13.2 0 0 1 712.7,444 Z" fill="#000" stroke="#000" stroke-width="0.5"/>
<path d="M699.5,444 L699.5,457.2 A13.2,13.2 0 0 1 686.3,444 Z" fill="#000" stroke="#000" stroke-width="0.5"/>
<text x="712.7" y="427.6" font-family="'Liberation Sans', sans-serif" font-size="18.5" font-weight="bold" fill="#111" stroke="#111" stroke-width="0.55" stroke-linejoin="round" textLength="51.9" lengthAdjust="spacingAndGlyphs">&#177;0,00</text>
<line x1="645.1" y1="836.1" x2="697.1" y2="836.1" stroke="#222" stroke-width="1.1"/>
<line x1="671.1" y1="809.6" x2="671.1" y2="862.6" stroke="#222" stroke-width="1.1"/>
<circle cx="671.1" cy="836.1" r="13.2" fill="#fff" stroke="#111" stroke-width="1.2"/>
<path d="M671.1,836.1 L671.1,822.9 A13.2,13.2 0 0 1 684.3,836.1 Z" fill="#000" stroke="#000" stroke-width="0.5"/>
<path d="M671.1,836.1 L671.1,849.3 A13.2,13.2 0 0 1 657.9,836.1 Z" fill="#000" stroke="#000" stroke-width="0.5"/>
<text x="684" y="819.3" font-family="'Liberation Sans', sans-serif" font-size="18.5" font-weight="bold" fill="#111" stroke="#111" stroke-width="0.55" stroke-linejoin="round" textLength="52.4" lengthAdjust="spacingAndGlyphs">&#177;0,00</text>
<line x1="1383.8" y1="872.4" x2="1435.8" y2="872.4" stroke="#222" stroke-width="1.1"/>
<line x1="1409.8" y1="845.9" x2="1409.8" y2="898.9" stroke="#222" stroke-width="1.1"/>
<circle cx="1409.8" cy="872.4" r="13.2" fill="#fff" stroke="#111" stroke-width="1.2"/>
<path d="M1409.8,872.4 L1409.8,859.2 A13.2,13.2 0 0 1 1423,872.4 Z" fill="#000" stroke="#000" stroke-width="0.5"/>
<path d="M1409.8,872.4 L1409.8,885.6 A13.2,13.2 0 0 1 1396.6,872.4 Z" fill="#000" stroke="#000" stroke-width="0.5"/>
<text x="1422.8" y="856.8" font-family="'Liberation Sans', sans-serif" font-size="18.5" font-weight="bold" fill="#111" stroke="#111" stroke-width="0.55" stroke-linejoin="round" textLength="49.2" lengthAdjust="spacingAndGlyphs">-0,45</text>
<line x1="274.5" y1="1031.5" x2="326.5" y2="1031.5" stroke="#222" stroke-width="1.1"/>
<line x1="300.5" y1="1005" x2="300.5" y2="1058" stroke="#222" stroke-width="1.1"/>
<circle cx="300.5" cy="1031.5" r="13.2" fill="#fff" stroke="#111" stroke-width="1.2"/>
<path d="M300.5,1031.5 L300.5,1018.3 A13.2,13.2 0 0 1 313.7,1031.5 Z" fill="#000" stroke="#000" stroke-width="0.5"/>
<path d="M300.5,1031.5 L300.5,1044.7 A13.2,13.2 0 0 1 287.3,1031.5 Z" fill="#000" stroke="#000" stroke-width="0.5"/>
<text x="313.5" y="1016.7" font-family="'Liberation Sans', sans-serif" font-size="18.5" font-weight="bold" fill="#111" stroke="#111" stroke-width="0.55" stroke-linejoin="round" textLength="49.2" lengthAdjust="spacingAndGlyphs">-0,45</text>
<path d="M1411.8,637 A66,66 0 1 1 1458.3,637.1" fill="none" stroke="#111" stroke-width="1.1"/>
<path d="M1456.2,514.8 L1382.1,613.1 L1424.9,608.5 Z" fill="#000" stroke="#000" stroke-width="1"/>
<polyline points="1424.9,608.5 1454.5,637.8 1455.6,514.8" fill="none" stroke="#222" stroke-width="1"/>
<text x="1463" y="493" font-family="'Liberation Serif', serif" font-size="76" font-weight="bold" fill="#111" stroke="#111" stroke-width="4" stroke-linejoin="round" text-anchor="middle" transform="rotate(20 1463 493)">E</text>
<path d="M1473,437 Q1476,431 1484,430 Q1490,430 1494,434 L1490,439.5 L1476,439.5 Z" fill="#000" stroke="#000" stroke-width="0.8"/>
<path d="M384.9,388.4 L384.9,432.4 L672,432.4" fill="none" stroke="#000" stroke-width="3" stroke-linecap="round" stroke-dasharray="21 11.5 0.01 11.5" stroke-dashoffset="-1.5"/>
<path d="M1537.5,387.8 L1537.5,432.4 L1193,432.4" fill="none" stroke="#000" stroke-width="3" stroke-linecap="round" stroke-dasharray="21 11.5 0.01 11.5" stroke-dashoffset="-1.5"/>
<path d="M763.6,-26.5 L763.6,262" fill="none" stroke="#000" stroke-width="3" stroke-linecap="round" stroke-dasharray="21 11.5 0.01 11.5" stroke-dashoffset="-1.5"/>
<path d="M808.2,927.6 L763.6,927.6 L763.6,640" fill="none" stroke="#000" stroke-width="3" stroke-linecap="round" stroke-dasharray="21 11.5 0.01 11.5" stroke-dashoffset="-1.5"/>
<text x="383" y="379" font-family="'Liberation Serif', serif" font-size="38" font-weight="bold" fill="#111" stroke="#111" stroke-width="0.75" stroke-linejoin="round" text-anchor="middle" textLength="27" lengthAdjust="spacingAndGlyphs">A</text>
<text x="1537.3" y="379" font-family="'Liberation Serif', serif" font-size="38" font-weight="bold" fill="#111" stroke="#111" stroke-width="0.75" stroke-linejoin="round" text-anchor="middle" textLength="27" lengthAdjust="spacingAndGlyphs">A</text>
<text x="843.2" y="927.6" font-family="'Liberation Serif', serif" font-size="37" font-weight="bold" fill="#111" stroke="#111" stroke-width="2.2" stroke-linejoin="round" text-anchor="middle" textLength="25.5" lengthAdjust="spacingAndGlyphs" transform="rotate(-90 843.2 927.6)">B</text>
<text x="134" y="41.6" font-family="'Liberation Serif', serif" font-size="19" font-weight="bold" fill="#111" stroke="#111" stroke-width="0.75" stroke-linejoin="round" text-anchor="middle" textLength="34" lengthAdjust="spacingAndGlyphs">101</text>
<text x="134" y="64.8" font-family="'Liberation Serif', serif" font-size="19" font-weight="bold" fill="#111" stroke="#111" stroke-width="0.75" stroke-linejoin="round" text-anchor="middle" textLength="107" lengthAdjust="spacingAndGlyphs">EL&#336;SZOBA</text>
<text x="134" y="83.3" font-family="'Liberation Serif', serif" font-size="14.5" font-weight="normal" fill="#111" text-anchor="middle" textLength="55" lengthAdjust="spacingAndGlyphs">ker&#225;mia</text>
<text x="107.75" y="100.6" font-family="'Liberation Serif', serif" font-size="14.5" font-weight="normal" fill="#111" textLength="48" lengthAdjust="spacingAndGlyphs">3,82 m</text>
<text x="156.25" y="94.8" font-family="'Liberation Serif', serif" font-size="9" font-weight="normal" fill="#111">2</text>
<text x="134" y="141.8" font-family="'Liberation Serif', serif" font-size="19" font-weight="bold" fill="#111" stroke="#111" stroke-width="0.75" stroke-linejoin="round" text-anchor="middle" textLength="34" lengthAdjust="spacingAndGlyphs">102</text>
<text x="134" y="165" font-family="'Liberation Serif', serif" font-size="19" font-weight="bold" fill="#111" stroke="#111" stroke-width="0.75" stroke-linejoin="round" text-anchor="middle" textLength="87" lengthAdjust="spacingAndGlyphs">KONYHA</text>
<text x="134" y="183.5" font-family="'Liberation Serif', serif" font-size="14.5" font-weight="normal" fill="#111" text-anchor="middle" textLength="55" lengthAdjust="spacingAndGlyphs">ker&#225;mia</text>
<text x="107.75" y="200.8" font-family="'Liberation Serif', serif" font-size="14.5" font-weight="normal" fill="#111" textLength="48" lengthAdjust="spacingAndGlyphs">7,15 m</text>
<text x="156.25" y="195" font-family="'Liberation Serif', serif" font-size="9" font-weight="normal" fill="#111">2</text>
<text x="134" y="242" font-family="'Liberation Serif', serif" font-size="19" font-weight="bold" fill="#111" stroke="#111" stroke-width="0.75" stroke-linejoin="round" text-anchor="middle" textLength="34" lengthAdjust="spacingAndGlyphs">103</text>
<text x="134" y="265.2" font-family="'Liberation Serif', serif" font-size="19" font-weight="bold" fill="#111" stroke="#111" stroke-width="0.75" stroke-linejoin="round" text-anchor="middle" textLength="86" lengthAdjust="spacingAndGlyphs">NAPPALI</text>
<text x="134" y="283.7" font-family="'Liberation Serif', serif" font-size="14.5" font-weight="normal" fill="#111" text-anchor="middle" textLength="89" lengthAdjust="spacingAndGlyphs">lam.parketta</text>
<text x="103.25" y="301" font-family="'Liberation Serif', serif" font-size="14.5" font-weight="normal" fill="#111" textLength="57" lengthAdjust="spacingAndGlyphs">28,84 m</text>
<text x="160.75" y="295.2" font-family="'Liberation Serif', serif" font-size="9" font-weight="normal" fill="#111">2</text>
<text x="134" y="342.2" font-family="'Liberation Serif', serif" font-size="19" font-weight="bold" fill="#111" stroke="#111" stroke-width="0.75" stroke-linejoin="round" text-anchor="middle" textLength="34" lengthAdjust="spacingAndGlyphs">104</text>
<text x="134" y="365.4" font-family="'Liberation Serif', serif" font-size="19" font-weight="bold" fill="#111" stroke="#111" stroke-width="0.75" stroke-linejoin="round" text-anchor="middle" textLength="127" lengthAdjust="spacingAndGlyphs">K&#214;ZLEKED&#336;</text>
<text x="134" y="383.9" font-family="'Liberation Serif', serif" font-size="14.5" font-weight="normal" fill="#111" text-anchor="middle" textLength="89" lengthAdjust="spacingAndGlyphs">lam.parketta</text>
<text x="107.75" y="401.2" font-family="'Liberation Serif', serif" font-size="14.5" font-weight="normal" fill="#111" textLength="48" lengthAdjust="spacingAndGlyphs">4,80 m</text>
<text x="156.25" y="395.4" font-family="'Liberation Serif', serif" font-size="9" font-weight="normal" fill="#111">2</text>
<text x="134" y="442.4" font-family="'Liberation Serif', serif" font-size="19" font-weight="bold" fill="#111" stroke="#111" stroke-width="0.75" stroke-linejoin="round" text-anchor="middle" textLength="34" lengthAdjust="spacingAndGlyphs">105</text>
<text x="134" y="465.6" font-family="'Liberation Serif', serif" font-size="19" font-weight="bold" fill="#111" stroke="#111" stroke-width="0.75" stroke-linejoin="round" text-anchor="middle" textLength="66" lengthAdjust="spacingAndGlyphs">SZOBA</text>
<text x="134" y="484.1" font-family="'Liberation Serif', serif" font-size="14.5" font-weight="normal" fill="#111" text-anchor="middle" textLength="89" lengthAdjust="spacingAndGlyphs">lam.parketta</text>
<text x="103.25" y="501.4" font-family="'Liberation Serif', serif" font-size="14.5" font-weight="normal" fill="#111" textLength="57" lengthAdjust="spacingAndGlyphs">10,80 m</text>
<text x="160.75" y="495.6" font-family="'Liberation Serif', serif" font-size="9" font-weight="normal" fill="#111">2</text>
<text x="134" y="542.6" font-family="'Liberation Serif', serif" font-size="19" font-weight="bold" fill="#111" stroke="#111" stroke-width="0.75" stroke-linejoin="round" text-anchor="middle" textLength="34" lengthAdjust="spacingAndGlyphs">106</text>
<text x="134" y="565.8" font-family="'Liberation Serif', serif" font-size="19" font-weight="bold" fill="#111" stroke="#111" stroke-width="0.75" stroke-linejoin="round" text-anchor="middle" textLength="66" lengthAdjust="spacingAndGlyphs">SZOBA</text>
<text x="134" y="584.3" font-family="'Liberation Serif', serif" font-size="14.5" font-weight="normal" fill="#111" text-anchor="middle" textLength="89" lengthAdjust="spacingAndGlyphs">lam.parketta</text>
<text x="103.25" y="601.6" font-family="'Liberation Serif', serif" font-size="14.5" font-weight="normal" fill="#111" textLength="57" lengthAdjust="spacingAndGlyphs">10,80 m</text>
<text x="160.75" y="595.8" font-family="'Liberation Serif', serif" font-size="9" font-weight="normal" fill="#111">2</text>
<text x="134" y="642.8" font-family="'Liberation Serif', serif" font-size="19" font-weight="bold" fill="#111" stroke="#111" stroke-width="0.75" stroke-linejoin="round" text-anchor="middle" textLength="34" lengthAdjust="spacingAndGlyphs">107</text>
<text x="134" y="666" font-family="'Liberation Serif', serif" font-size="19" font-weight="bold" fill="#111" stroke="#111" stroke-width="0.75" stroke-linejoin="round" text-anchor="middle" textLength="66" lengthAdjust="spacingAndGlyphs">SZOBA</text>
<text x="134" y="684.5" font-family="'Liberation Serif', serif" font-size="14.5" font-weight="normal" fill="#111" text-anchor="middle" textLength="89" lengthAdjust="spacingAndGlyphs">lam.parketta</text>
<text x="103.25" y="701.8" font-family="'Liberation Serif', serif" font-size="14.5" font-weight="normal" fill="#111" textLength="57" lengthAdjust="spacingAndGlyphs">10,89 m</text>
<text x="160.75" y="696" font-family="'Liberation Serif', serif" font-size="9" font-weight="normal" fill="#111">2</text>
<text x="134" y="743" font-family="'Liberation Serif', serif" font-size="19" font-weight="bold" fill="#111" stroke="#111" stroke-width="0.75" stroke-linejoin="round" text-anchor="middle" textLength="34" lengthAdjust="spacingAndGlyphs">108</text>
<text x="134" y="766.2" font-family="'Liberation Serif', serif" font-size="19" font-weight="bold" fill="#111" stroke="#111" stroke-width="0.75" stroke-linejoin="round" text-anchor="middle" textLength="71" lengthAdjust="spacingAndGlyphs">F&#220;RD&#336;</text>
<text x="134" y="784.7" font-family="'Liberation Serif', serif" font-size="14.5" font-weight="normal" fill="#111" text-anchor="middle" textLength="55" lengthAdjust="spacingAndGlyphs">ker&#225;mia</text>
<text x="107.75" y="802" font-family="'Liberation Serif', serif" font-size="14.5" font-weight="normal" fill="#111" textLength="48" lengthAdjust="spacingAndGlyphs">6,49 m</text>
<text x="156.25" y="796.2" font-family="'Liberation Serif', serif" font-size="9" font-weight="normal" fill="#111">2</text>
<text x="134" y="843.2" font-family="'Liberation Serif', serif" font-size="19" font-weight="bold" fill="#111" stroke="#111" stroke-width="0.75" stroke-linejoin="round" text-anchor="middle" textLength="34" lengthAdjust="spacingAndGlyphs">109</text>
<text x="134" y="866.4" font-family="'Liberation Serif', serif" font-size="19" font-weight="bold" fill="#111" stroke="#111" stroke-width="0.75" stroke-linejoin="round" text-anchor="middle" textLength="124" lengthAdjust="spacingAndGlyphs">ZUHANYOZ&#211;</text>
<text x="134" y="884.9" font-family="'Liberation Serif', serif" font-size="14.5" font-weight="normal" fill="#111" text-anchor="middle" textLength="55" lengthAdjust="spacingAndGlyphs">ker&#225;mia</text>
<text x="107.75" y="902.2" font-family="'Liberation Serif', serif" font-size="14.5" font-weight="normal" fill="#111" textLength="48" lengthAdjust="spacingAndGlyphs">3,62 m</text>
<text x="156.25" y="896.4" font-family="'Liberation Serif', serif" font-size="9" font-weight="normal" fill="#111">2</text>
<text x="134" y="943.4" font-family="'Liberation Serif', serif" font-size="19" font-weight="bold" fill="#111" stroke="#111" stroke-width="0.75" stroke-linejoin="round" text-anchor="middle" textLength="34" lengthAdjust="spacingAndGlyphs">110</text>
<text x="134" y="966.6" font-family="'Liberation Serif', serif" font-size="19" font-weight="bold" fill="#111" stroke="#111" stroke-width="0.75" stroke-linejoin="round" text-anchor="middle" textLength="224" lengthAdjust="spacingAndGlyphs">G&#201;P&#201;SZETI HELYIS&#201;G</text>
<text x="134" y="985.1" font-family="'Liberation Serif', serif" font-size="14.5" font-weight="normal" fill="#111" text-anchor="middle" textLength="50" lengthAdjust="spacingAndGlyphs">greslap</text>
<text x="107.75" y="1002.4" font-family="'Liberation Serif', serif" font-size="14.5" font-weight="normal" fill="#111" textLength="48" lengthAdjust="spacingAndGlyphs">2,16 m</text>
<text x="156.25" y="996.6" font-family="'Liberation Serif', serif" font-size="9" font-weight="normal" fill="#111">2</text>
</svg>
</body></html>
